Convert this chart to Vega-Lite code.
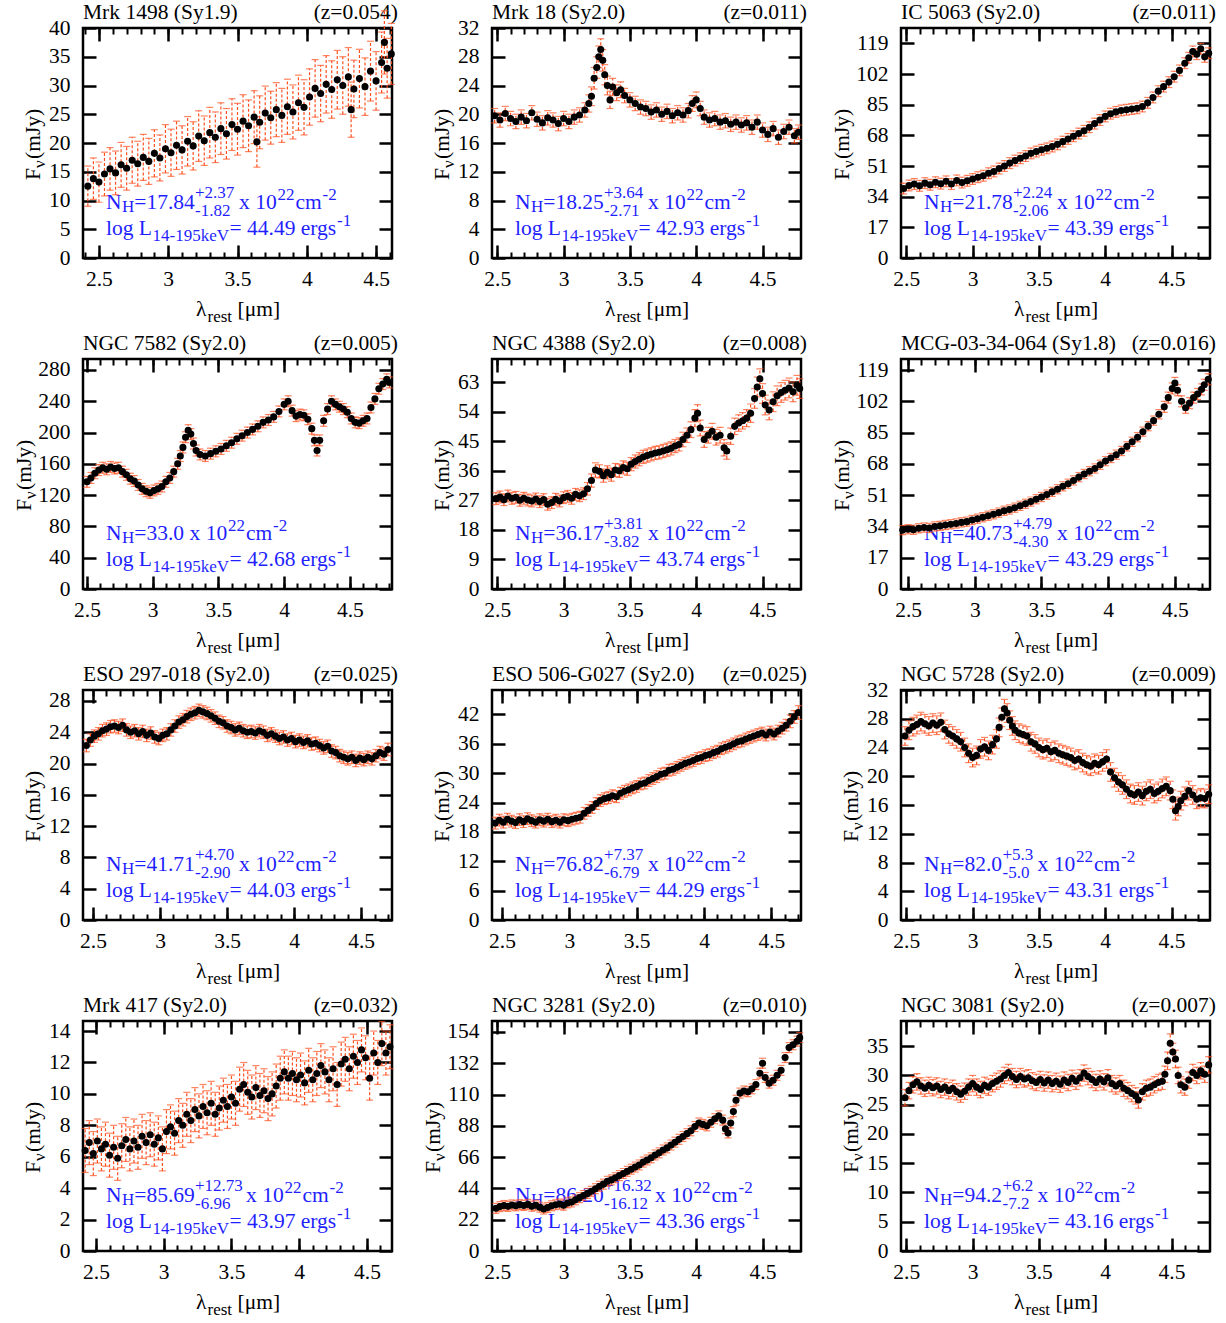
{
"$schema":"https://vega.github.io/schema/vega-lite/v6.json",
"background":"white",
"padding":{"left":12,"top":0,"right":5,"bottom":5},
"columns":3,
"spacing":{"row":101,"column":100},
"bounds":"flush",
"config":{
"view":{"stroke":"black","strokeWidth":2.5},
"axis":{"domain":false,"grid":false,"labelFont":"Liberation Serif","labelFontSize":21.5,"labelColor":"black","tickColor":"black","tickWidth":2.5,"labelFlush":false,"labelOverlap":false},
"text":{"font":"Liberation Serif","fontSize":21.5,"align":"left","baseline":"alphabetic","color":"black"},
"circle":{"size":50,"opacity":1},
"style":{"b":{"color":"#1f1fff"}}
},
"datasets":{
"o":[{"a":1}],
"d1":[{"x":2.42,"y":12.5,"e":3.5},{"x":2.46,"y":13.8,"e":3.6},{"x":2.5,"y":13.2,"e":3.5},{"x":2.54,"y":14.6,"e":3.8},{"x":2.58,"y":15.5,"e":3.7},{"x":2.62,"y":14.8,"e":3.8},{"x":2.66,"y":16.2,"e":3.9},{"x":2.7,"y":15.6,"e":3.8},{"x":2.74,"y":17,"e":4},{"x":2.78,"y":16.4,"e":3.9},{"x":2.82,"y":17.5,"e":4},{"x":2.86,"y":16.8,"e":4},{"x":2.9,"y":18.2,"e":4.1},{"x":2.94,"y":17.4,"e":4},{"x":2.98,"y":19,"e":4.2},{"x":3.02,"y":18.3,"e":4.1},{"x":3.06,"y":19.6,"e":4.2},{"x":3.1,"y":18.8,"e":4.2},{"x":3.14,"y":20.3,"e":4.3},{"x":3.18,"y":19.5,"e":4.2},{"x":3.22,"y":21.2,"e":4.4},{"x":3.26,"y":20.4,"e":4.3},{"x":3.3,"y":21.8,"e":4.4},{"x":3.34,"y":21,"e":4.4},{"x":3.38,"y":22.5,"e":4.5},{"x":3.42,"y":21.6,"e":4.4},{"x":3.46,"y":23.2,"e":4.5},{"x":3.5,"y":22.4,"e":4.5},{"x":3.54,"y":23.8,"e":4.6},{"x":3.58,"y":23,"e":4.5},{"x":3.62,"y":24.5,"e":4.6},{"x":3.64,"y":20.2,"e":4.4},{"x":3.66,"y":23.6,"e":4.6},{"x":3.7,"y":25.2,"e":4.7},{"x":3.74,"y":24.4,"e":4.6},{"x":3.78,"y":25.8,"e":4.7},{"x":3.82,"y":24.8,"e":4.7},{"x":3.86,"y":26.3,"e":4.8},{"x":3.9,"y":25.4,"e":4.7},{"x":3.94,"y":27,"e":4.8},{"x":3.98,"y":26.2,"e":4.8},{"x":4.02,"y":28,"e":4.9},{"x":4.06,"y":29.5,"e":5},{"x":4.1,"y":28.6,"e":4.9},{"x":4.14,"y":30.2,"e":5},{"x":4.18,"y":29.3,"e":5},{"x":4.22,"y":31,"e":5.1},{"x":4.26,"y":30,"e":5},{"x":4.3,"y":31.5,"e":5.1},{"x":4.32,"y":25.8,"e":4.8},{"x":4.34,"y":29.4,"e":5},{"x":4.38,"y":31.2,"e":5.1},{"x":4.42,"y":29.8,"e":5},{"x":4.46,"y":32.5,"e":5.2},{"x":4.5,"y":30.8,"e":5.1},{"x":4.54,"y":34,"e":5.3},{"x":4.56,"y":37.5,"e":5.5},{"x":4.58,"y":33,"e":5.2},{"x":4.61,"y":35.5,"e":5.3}],
"d2":[{"x":2.48,"y":19.8,"e":1},{"x":2.52,"y":19.2,"e":1},{"x":2.56,"y":20.1,"e":1},{"x":2.6,"y":19.4,"e":1},{"x":2.64,"y":19,"e":1},{"x":2.68,"y":19.6,"e":1},{"x":2.72,"y":19.1,"e":1},{"x":2.76,"y":20.2,"e":1},{"x":2.8,"y":19.3,"e":1},{"x":2.84,"y":18.8,"e":1},{"x":2.88,"y":19.5,"e":1},{"x":2.92,"y":19.2,"e":1},{"x":2.96,"y":18.7,"e":1},{"x":3,"y":19.4,"e":1},{"x":3.04,"y":19,"e":1},{"x":3.08,"y":19.6,"e":1},{"x":3.12,"y":19.9,"e":1},{"x":3.16,"y":20.6,"e":1},{"x":3.19,"y":21.5,"e":1.2},{"x":3.21,"y":22.5,"e":1.3},{"x":3.23,"y":25,"e":1.5},{"x":3.25,"y":26.5,"e":1.5},{"x":3.265,"y":28,"e":1.5},{"x":3.28,"y":29,"e":1.5},{"x":3.295,"y":27.5,"e":1.5},{"x":3.31,"y":25.5,"e":1.4},{"x":3.33,"y":24,"e":1.3},{"x":3.35,"y":22,"e":1.2},{"x":3.37,"y":23.8,"e":1.2},{"x":3.4,"y":23,"e":1.1},{"x":3.43,"y":23.4,"e":1.1},{"x":3.46,"y":22.6,"e":1},{"x":3.5,"y":22,"e":1},{"x":3.54,"y":21.5,"e":1},{"x":3.58,"y":21,"e":1},{"x":3.62,"y":20.8,"e":1},{"x":3.66,"y":20.3,"e":1},{"x":3.7,"y":20.6,"e":1},{"x":3.74,"y":20,"e":1},{"x":3.78,"y":20.4,"e":1},{"x":3.82,"y":19.8,"e":1},{"x":3.86,"y":20.2,"e":1},{"x":3.9,"y":19.9,"e":1},{"x":3.94,"y":20.5,"e":1},{"x":3.97,"y":21.5,"e":1.1},{"x":4,"y":22,"e":1.1},{"x":4.03,"y":20.8,"e":1},{"x":4.06,"y":19.6,"e":1},{"x":4.1,"y":19.2,"e":1},{"x":4.14,"y":19.4,"e":1},{"x":4.18,"y":18.9,"e":1},{"x":4.22,"y":19.1,"e":1},{"x":4.26,"y":18.6,"e":1},{"x":4.3,"y":18.9,"e":1},{"x":4.34,"y":18.5,"e":1},{"x":4.38,"y":18.8,"e":1},{"x":4.42,"y":18.2,"e":1},{"x":4.46,"y":18.9,"e":1},{"x":4.5,"y":17.8,"e":1},{"x":4.54,"y":17.2,"e":1},{"x":4.58,"y":18,"e":1},{"x":4.62,"y":16.8,"e":1},{"x":4.66,"y":17.6,"e":1},{"x":4.7,"y":18.2,"e":1},{"x":4.74,"y":17,"e":1},{"x":4.77,"y":17.5,"e":1}],
"d3":[{"x":2.48,"y":38.5,"e":3},{"x":2.52,"y":40.2,"e":3},{"x":2.56,"y":41,"e":3},{"x":2.6,"y":40,"e":3},{"x":2.64,"y":41.5,"e":3},{"x":2.68,"y":40.6,"e":3},{"x":2.72,"y":42,"e":3},{"x":2.76,"y":41.2,"e":3},{"x":2.8,"y":42.5,"e":3},{"x":2.84,"y":41,"e":3},{"x":2.88,"y":43,"e":3},{"x":2.92,"y":41.8,"e":3},{"x":2.96,"y":42.8,"e":3},{"x":3,"y":43.8,"e":3},{"x":3.04,"y":44.8,"e":3},{"x":3.08,"y":45.6,"e":3},{"x":3.12,"y":47,"e":3},{"x":3.16,"y":48,"e":3},{"x":3.2,"y":49.6,"e":3},{"x":3.24,"y":51,"e":3},{"x":3.28,"y":52.6,"e":3},{"x":3.32,"y":54,"e":3},{"x":3.36,"y":55.3,"e":3},{"x":3.4,"y":56.5,"e":3},{"x":3.44,"y":58,"e":3},{"x":3.48,"y":59,"e":3},{"x":3.52,"y":60,"e":3},{"x":3.56,"y":60.8,"e":3},{"x":3.6,"y":61.8,"e":3},{"x":3.64,"y":63,"e":3},{"x":3.68,"y":64.5,"e":3},{"x":3.72,"y":66,"e":3},{"x":3.76,"y":67.5,"e":3},{"x":3.8,"y":69,"e":3},{"x":3.84,"y":70.5,"e":3},{"x":3.88,"y":72.5,"e":3},{"x":3.92,"y":74.5,"e":3},{"x":3.96,"y":76.5,"e":3},{"x":4,"y":78.5,"e":3},{"x":4.04,"y":80,"e":3},{"x":4.08,"y":81,"e":3},{"x":4.12,"y":81.8,"e":3},{"x":4.16,"y":82.2,"e":3},{"x":4.2,"y":82.6,"e":3},{"x":4.24,"y":83,"e":3},{"x":4.28,"y":84,"e":3},{"x":4.32,"y":86,"e":3},{"x":4.36,"y":89,"e":3},{"x":4.4,"y":92.5,"e":3},{"x":4.44,"y":95,"e":3},{"x":4.48,"y":97.5,"e":3},{"x":4.52,"y":100.5,"e":3},{"x":4.56,"y":104,"e":3},{"x":4.6,"y":108,"e":3},{"x":4.63,"y":111,"e":3},{"x":4.66,"y":114.5,"e":3},{"x":4.69,"y":113,"e":3},{"x":4.72,"y":116,"e":3},{"x":4.75,"y":111.5,"e":3},{"x":4.78,"y":113.5,"e":3}],
"d4":[{"x":2.5,"y":137,"e":7},{"x":2.53,"y":142,"e":7},{"x":2.56,"y":148,"e":7},{"x":2.59,"y":152,"e":7},{"x":2.62,"y":155,"e":7},{"x":2.65,"y":153,"e":7},{"x":2.68,"y":156,"e":7},{"x":2.71,"y":154,"e":7},{"x":2.74,"y":155,"e":7},{"x":2.77,"y":150,"e":7},{"x":2.8,"y":146,"e":7},{"x":2.83,"y":141,"e":7},{"x":2.86,"y":138,"e":7},{"x":2.89,"y":133,"e":7},{"x":2.92,"y":128,"e":7},{"x":2.95,"y":125,"e":7},{"x":2.98,"y":123,"e":7},{"x":3.01,"y":126,"e":7},{"x":3.04,"y":128,"e":7},{"x":3.07,"y":131,"e":7},{"x":3.1,"y":137,"e":7},{"x":3.13,"y":142,"e":7},{"x":3.16,"y":150,"e":7},{"x":3.19,"y":160,"e":7},{"x":3.21,"y":170,"e":7},{"x":3.23,"y":181,"e":7},{"x":3.25,"y":194,"e":7},{"x":3.27,"y":203,"e":7},{"x":3.29,"y":198,"e":7},{"x":3.31,"y":186,"e":7},{"x":3.33,"y":177,"e":7},{"x":3.36,"y":172,"e":7},{"x":3.4,"y":170,"e":7},{"x":3.44,"y":173,"e":7},{"x":3.48,"y":176,"e":7},{"x":3.52,"y":179,"e":7},{"x":3.56,"y":183,"e":7},{"x":3.6,"y":187,"e":7},{"x":3.64,"y":192,"e":7},{"x":3.68,"y":196,"e":7},{"x":3.72,"y":200,"e":7},{"x":3.76,"y":204,"e":7},{"x":3.8,"y":208,"e":7},{"x":3.84,"y":213,"e":7},{"x":3.88,"y":216,"e":7},{"x":3.92,"y":220,"e":7},{"x":3.96,"y":227,"e":7},{"x":4,"y":236,"e":7},{"x":4.03,"y":240,"e":7},{"x":4.06,"y":228,"e":7},{"x":4.09,"y":221,"e":7},{"x":4.12,"y":223,"e":7},{"x":4.15,"y":222,"e":7},{"x":4.18,"y":217,"e":7},{"x":4.21,"y":205,"e":7},{"x":4.23,"y":190,"e":7},{"x":4.25,"y":177,"e":7},{"x":4.27,"y":190,"e":7},{"x":4.3,"y":215,"e":7},{"x":4.33,"y":230,"e":7},{"x":4.36,"y":240,"e":7},{"x":4.39,"y":236,"e":7},{"x":4.42,"y":233,"e":7},{"x":4.45,"y":230,"e":7},{"x":4.48,"y":226,"e":7},{"x":4.51,"y":218,"e":7},{"x":4.54,"y":213,"e":7},{"x":4.57,"y":212,"e":7},{"x":4.6,"y":215,"e":7},{"x":4.63,"y":218,"e":7},{"x":4.66,"y":232,"e":7},{"x":4.69,"y":243,"e":7},{"x":4.72,"y":256,"e":7},{"x":4.75,"y":262,"e":7},{"x":4.78,"y":268,"e":7},{"x":4.8,"y":264,"e":7}],
"d5":[{"x":2.49,"y":27.5,"e":1.8},{"x":2.52,"y":28,"e":1.8},{"x":2.55,"y":27.2,"e":1.8},{"x":2.58,"y":28.3,"e":1.8},{"x":2.61,"y":27.6,"e":1.8},{"x":2.64,"y":27.9,"e":1.8},{"x":2.67,"y":27,"e":1.8},{"x":2.7,"y":27.6,"e":1.8},{"x":2.73,"y":27.1,"e":1.8},{"x":2.76,"y":26.8,"e":1.8},{"x":2.79,"y":27.4,"e":1.8},{"x":2.82,"y":26.6,"e":1.8},{"x":2.85,"y":27.2,"e":1.8},{"x":2.88,"y":25.8,"e":1.8},{"x":2.91,"y":26.3,"e":1.8},{"x":2.94,"y":27.3,"e":1.8},{"x":2.97,"y":26.8,"e":1.8},{"x":3,"y":27.8,"e":1.8},{"x":3.03,"y":28.2,"e":1.8},{"x":3.06,"y":27.6,"e":1.8},{"x":3.09,"y":28.8,"e":1.8},{"x":3.12,"y":28.4,"e":1.8},{"x":3.15,"y":29,"e":1.8},{"x":3.18,"y":30.5,"e":1.9},{"x":3.21,"y":33,"e":2},{"x":3.24,"y":36.2,"e":2.2},{"x":3.27,"y":35.8,"e":2},{"x":3.3,"y":34.5,"e":2},{"x":3.33,"y":35.5,"e":2},{"x":3.36,"y":34.8,"e":2},{"x":3.39,"y":36.2,"e":2},{"x":3.42,"y":36,"e":2},{"x":3.45,"y":37,"e":2},{"x":3.48,"y":36.6,"e":2},{"x":3.51,"y":38,"e":2},{"x":3.54,"y":38.8,"e":2},{"x":3.57,"y":39.5,"e":2},{"x":3.6,"y":40.2,"e":2},{"x":3.63,"y":40.6,"e":2},{"x":3.66,"y":41,"e":2},{"x":3.69,"y":41.4,"e":2},{"x":3.72,"y":41.6,"e":2},{"x":3.75,"y":42,"e":2},{"x":3.78,"y":42.4,"e":2},{"x":3.81,"y":42.8,"e":2},{"x":3.84,"y":43.5,"e":2},{"x":3.87,"y":44,"e":2},{"x":3.9,"y":45.5,"e":2.2},{"x":3.93,"y":46.8,"e":2.2},{"x":3.96,"y":48.5,"e":2.4},{"x":3.99,"y":52,"e":2.6},{"x":4.01,"y":53.5,"e":2.6},{"x":4.03,"y":49,"e":2.4},{"x":4.06,"y":45.5,"e":2.4},{"x":4.09,"y":46.8,"e":2.4},{"x":4.12,"y":48,"e":2.4},{"x":4.15,"y":46.2,"e":2.4},{"x":4.18,"y":46.8,"e":2.4},{"x":4.21,"y":43,"e":2.5},{"x":4.23,"y":42,"e":2.5},{"x":4.26,"y":46.5,"e":2.5},{"x":4.29,"y":49.5,"e":2.5},{"x":4.32,"y":50.5,"e":2.5},{"x":4.35,"y":51.2,"e":2.5},{"x":4.38,"y":52,"e":2.6},{"x":4.41,"y":53.5,"e":2.8},{"x":4.44,"y":58,"e":3},{"x":4.46,"y":61.5,"e":3},{"x":4.48,"y":64,"e":3},{"x":4.5,"y":59.5,"e":3},{"x":4.52,"y":56,"e":3},{"x":4.55,"y":54.5,"e":3},{"x":4.58,"y":57,"e":3},{"x":4.61,"y":58.8,"e":3},{"x":4.64,"y":59.8,"e":3},{"x":4.67,"y":60.5,"e":3},{"x":4.7,"y":61.2,"e":3},{"x":4.73,"y":60,"e":3},{"x":4.76,"y":62,"e":3},{"x":4.78,"y":61,"e":3}],
"d6":[{"x":2.46,"y":32,"e":2.5},{"x":2.5,"y":32.5,"e":2.5},{"x":2.54,"y":32.2,"e":2.5},{"x":2.58,"y":33,"e":2.5},{"x":2.62,"y":33.4,"e":2.5},{"x":2.66,"y":33.2,"e":2.5},{"x":2.7,"y":34,"e":2.5},{"x":2.74,"y":34.3,"e":2.5},{"x":2.78,"y":34.8,"e":2.5},{"x":2.82,"y":35.2,"e":2.5},{"x":2.86,"y":35.6,"e":2.5},{"x":2.9,"y":36.2,"e":2.5},{"x":2.94,"y":36.6,"e":2.5},{"x":2.98,"y":37.5,"e":2.5},{"x":3.02,"y":38.2,"e":2.5},{"x":3.06,"y":39,"e":2.5},{"x":3.1,"y":39.8,"e":2.5},{"x":3.14,"y":40.6,"e":2.5},{"x":3.18,"y":41.5,"e":2.5},{"x":3.22,"y":42.5,"e":2.5},{"x":3.26,"y":43.2,"e":2.5},{"x":3.3,"y":44.2,"e":2.5},{"x":3.34,"y":45.2,"e":2.5},{"x":3.38,"y":46.3,"e":2.5},{"x":3.42,"y":47.5,"e":2.5},{"x":3.46,"y":48.8,"e":2.5},{"x":3.5,"y":50,"e":2.5},{"x":3.54,"y":51.3,"e":2.5},{"x":3.58,"y":52.8,"e":2.5},{"x":3.62,"y":54.2,"e":2.5},{"x":3.66,"y":55.8,"e":2.5},{"x":3.7,"y":57.2,"e":2.5},{"x":3.74,"y":59,"e":2.5},{"x":3.78,"y":60.8,"e":2.5},{"x":3.82,"y":62.5,"e":2.5},{"x":3.86,"y":64,"e":2.5},{"x":3.9,"y":65.5,"e":2.5},{"x":3.94,"y":67.5,"e":2.5},{"x":3.98,"y":69.5,"e":2.5},{"x":4.02,"y":71.2,"e":2.5},{"x":4.06,"y":73,"e":2.5},{"x":4.1,"y":75,"e":2.5},{"x":4.14,"y":77.5,"e":2.5},{"x":4.18,"y":80,"e":2.5},{"x":4.22,"y":82.5,"e":2.5},{"x":4.26,"y":85.5,"e":2.5},{"x":4.3,"y":88.5,"e":2.5},{"x":4.34,"y":91.5,"e":2.5},{"x":4.38,"y":95,"e":2.5},{"x":4.42,"y":99,"e":3},{"x":4.45,"y":104,"e":3},{"x":4.48,"y":109,"e":3},{"x":4.5,"y":112,"e":3},{"x":4.52,"y":108,"e":3},{"x":4.55,"y":102,"e":3},{"x":4.58,"y":98.5,"e":3},{"x":4.61,"y":101,"e":3},{"x":4.64,"y":104,"e":3},{"x":4.67,"y":106,"e":3},{"x":4.7,"y":108.5,"e":3},{"x":4.72,"y":111,"e":3},{"x":4.75,"y":114,"e":3}],
"d7":[{"x":2.45,"y":22.3,"e":0.8},{"x":2.48,"y":23,"e":0.8},{"x":2.51,"y":23.5,"e":0.8},{"x":2.54,"y":23.8,"e":0.8},{"x":2.57,"y":24.2,"e":0.8},{"x":2.6,"y":24.4,"e":0.8},{"x":2.63,"y":24.7,"e":0.8},{"x":2.66,"y":24.8,"e":0.8},{"x":2.69,"y":24.6,"e":0.8},{"x":2.72,"y":24.9,"e":0.8},{"x":2.75,"y":24.3,"e":0.8},{"x":2.78,"y":24,"e":0.8},{"x":2.81,"y":24.2,"e":0.8},{"x":2.84,"y":23.8,"e":0.8},{"x":2.87,"y":24.1,"e":0.8},{"x":2.9,"y":23.6,"e":0.8},{"x":2.93,"y":23.9,"e":0.8},{"x":2.96,"y":23.4,"e":0.8},{"x":2.99,"y":23.2,"e":0.8},{"x":3.02,"y":23.6,"e":0.8},{"x":3.05,"y":23.8,"e":0.8},{"x":3.08,"y":24.3,"e":0.8},{"x":3.11,"y":24.8,"e":0.8},{"x":3.14,"y":25.3,"e":0.8},{"x":3.17,"y":25.6,"e":0.8},{"x":3.2,"y":26,"e":0.8},{"x":3.23,"y":26.3,"e":0.8},{"x":3.26,"y":26.5,"e":0.8},{"x":3.29,"y":26.8,"e":0.8},{"x":3.32,"y":26.6,"e":0.8},{"x":3.35,"y":26.4,"e":0.8},{"x":3.38,"y":26.1,"e":0.8},{"x":3.41,"y":25.8,"e":0.8},{"x":3.44,"y":25.4,"e":0.8},{"x":3.47,"y":25.2,"e":0.8},{"x":3.5,"y":24.8,"e":0.8},{"x":3.53,"y":24.6,"e":0.8},{"x":3.56,"y":24.3,"e":0.8},{"x":3.59,"y":24.5,"e":0.8},{"x":3.62,"y":24.2,"e":0.8},{"x":3.65,"y":24,"e":0.8},{"x":3.68,"y":24.1,"e":0.8},{"x":3.71,"y":23.9,"e":0.8},{"x":3.74,"y":24.2,"e":0.8},{"x":3.77,"y":24,"e":0.8},{"x":3.8,"y":23.6,"e":0.8},{"x":3.83,"y":23.8,"e":0.8},{"x":3.86,"y":23.5,"e":0.8},{"x":3.89,"y":23.2,"e":0.8},{"x":3.92,"y":23.4,"e":0.8},{"x":3.95,"y":23,"e":0.8},{"x":3.98,"y":23.2,"e":0.8},{"x":4.01,"y":22.8,"e":0.8},{"x":4.04,"y":23,"e":0.8},{"x":4.07,"y":22.7,"e":0.8},{"x":4.1,"y":22.9,"e":0.8},{"x":4.13,"y":22.5,"e":0.8},{"x":4.16,"y":22.6,"e":0.8},{"x":4.19,"y":22.3,"e":0.8},{"x":4.22,"y":22,"e":0.8},{"x":4.25,"y":22.2,"e":0.8},{"x":4.28,"y":21.6,"e":0.8},{"x":4.31,"y":21.4,"e":0.8},{"x":4.34,"y":21,"e":0.8},{"x":4.37,"y":20.8,"e":0.8},{"x":4.4,"y":20.6,"e":0.8},{"x":4.43,"y":20.8,"e":0.8},{"x":4.46,"y":20.4,"e":0.8},{"x":4.49,"y":20.7,"e":0.8},{"x":4.52,"y":20.5,"e":0.8},{"x":4.55,"y":20.8,"e":0.8},{"x":4.58,"y":20.6,"e":0.8},{"x":4.61,"y":21,"e":0.8},{"x":4.64,"y":21.4,"e":0.8},{"x":4.67,"y":21.2,"e":0.8},{"x":4.7,"y":21.8,"e":0.8}],
"d8":[{"x":2.45,"y":19.8,"e":1.2},{"x":2.48,"y":20.4,"e":1.2},{"x":2.51,"y":20,"e":1.2},{"x":2.54,"y":20.6,"e":1.2},{"x":2.57,"y":20.2,"e":1.2},{"x":2.6,"y":19.9,"e":1.2},{"x":2.63,"y":20.5,"e":1.2},{"x":2.66,"y":20.1,"e":1.2},{"x":2.69,"y":20.7,"e":1.2},{"x":2.72,"y":20.3,"e":1.2},{"x":2.75,"y":20,"e":1.2},{"x":2.78,"y":20.5,"e":1.2},{"x":2.81,"y":20.2,"e":1.2},{"x":2.84,"y":20.6,"e":1.2},{"x":2.87,"y":20.1,"e":1.2},{"x":2.9,"y":20.4,"e":1.2},{"x":2.93,"y":20,"e":1.2},{"x":2.96,"y":20.5,"e":1.2},{"x":2.99,"y":20.3,"e":1.2},{"x":3.02,"y":20.6,"e":1.2},{"x":3.05,"y":20.8,"e":1.2},{"x":3.08,"y":21,"e":1.2},{"x":3.11,"y":21.8,"e":1.2},{"x":3.14,"y":22.4,"e":1.2},{"x":3.17,"y":23,"e":1.2},{"x":3.2,"y":23.8,"e":1.2},{"x":3.23,"y":24.4,"e":1.2},{"x":3.26,"y":24.8,"e":1.2},{"x":3.29,"y":25,"e":1.2},{"x":3.32,"y":25.4,"e":1.2},{"x":3.35,"y":25.2,"e":1.2},{"x":3.38,"y":25.9,"e":1.2},{"x":3.41,"y":26.3,"e":1.2},{"x":3.44,"y":26.6,"e":1.2},{"x":3.47,"y":27,"e":1.2},{"x":3.5,"y":27.3,"e":1.2},{"x":3.53,"y":27.8,"e":1.2},{"x":3.56,"y":28,"e":1.2},{"x":3.59,"y":28.5,"e":1.2},{"x":3.62,"y":28.9,"e":1.2},{"x":3.65,"y":29.3,"e":1.2},{"x":3.68,"y":29.8,"e":1.2},{"x":3.71,"y":30,"e":1.2},{"x":3.74,"y":30.6,"e":1.2},{"x":3.77,"y":30.8,"e":1.2},{"x":3.8,"y":31.2,"e":1.2},{"x":3.83,"y":31.6,"e":1.2},{"x":3.86,"y":32,"e":1.2},{"x":3.89,"y":32.3,"e":1.2},{"x":3.92,"y":32.6,"e":1.2},{"x":3.95,"y":33,"e":1.2},{"x":3.98,"y":33.2,"e":1.2},{"x":4.01,"y":33.6,"e":1.2},{"x":4.04,"y":33.8,"e":1.2},{"x":4.07,"y":34.2,"e":1.2},{"x":4.1,"y":34.5,"e":1.2},{"x":4.13,"y":35,"e":1.2},{"x":4.16,"y":35.3,"e":1.2},{"x":4.19,"y":35.6,"e":1.2},{"x":4.22,"y":36,"e":1.2},{"x":4.25,"y":36.4,"e":1.2},{"x":4.28,"y":36.6,"e":1.2},{"x":4.31,"y":37,"e":1.2},{"x":4.34,"y":37.3,"e":1.2},{"x":4.37,"y":37.6,"e":1.2},{"x":4.4,"y":37.9,"e":1.2},{"x":4.43,"y":38.2,"e":1.2},{"x":4.46,"y":37.8,"e":1.2},{"x":4.49,"y":38.4,"e":1.2},{"x":4.52,"y":38,"e":1.2},{"x":4.55,"y":38.6,"e":1.2},{"x":4.58,"y":39.2,"e":1.2},{"x":4.61,"y":39.8,"e":1.2},{"x":4.64,"y":40.6,"e":1.3},{"x":4.67,"y":41.5,"e":1.3},{"x":4.7,"y":42.4,"e":1.4}],
"d9":[{"x":2.49,"y":25.6,"e":1.3},{"x":2.52,"y":26.4,"e":1.3},{"x":2.55,"y":26.9,"e":1.3},{"x":2.58,"y":27.2,"e":1.3},{"x":2.61,"y":27.6,"e":1.3},{"x":2.64,"y":27.3,"e":1.3},{"x":2.67,"y":27,"e":1.3},{"x":2.7,"y":27.4,"e":1.3},{"x":2.73,"y":27.1,"e":1.3},{"x":2.76,"y":27.5,"e":1.3},{"x":2.79,"y":26.5,"e":1.3},{"x":2.82,"y":25.9,"e":1.3},{"x":2.85,"y":25.6,"e":1.3},{"x":2.88,"y":25.2,"e":1.3},{"x":2.91,"y":24.8,"e":1.3},{"x":2.94,"y":24,"e":1.3},{"x":2.97,"y":23.2,"e":1.3},{"x":3,"y":22.6,"e":1.3},{"x":3.03,"y":22.9,"e":1.3},{"x":3.06,"y":23.8,"e":1.3},{"x":3.09,"y":24.1,"e":1.3},{"x":3.12,"y":23.6,"e":1.3},{"x":3.15,"y":24.4,"e":1.3},{"x":3.18,"y":25.2,"e":1.3},{"x":3.2,"y":26.8,"e":1.3},{"x":3.22,"y":28.2,"e":1.3},{"x":3.24,"y":29.4,"e":1.3},{"x":3.26,"y":28.8,"e":1.3},{"x":3.28,"y":27.8,"e":1.3},{"x":3.3,"y":27,"e":1.3},{"x":3.32,"y":26.4,"e":1.3},{"x":3.35,"y":26,"e":1.3},{"x":3.38,"y":25.8,"e":1.3},{"x":3.41,"y":25.6,"e":1.3},{"x":3.44,"y":24.8,"e":1.3},{"x":3.47,"y":24.5,"e":1.3},{"x":3.5,"y":24,"e":1.3},{"x":3.53,"y":23.7,"e":1.3},{"x":3.56,"y":23.9,"e":1.3},{"x":3.59,"y":23.4,"e":1.3},{"x":3.62,"y":23.6,"e":1.3},{"x":3.65,"y":23.2,"e":1.3},{"x":3.68,"y":23,"e":1.3},{"x":3.71,"y":22.8,"e":1.3},{"x":3.74,"y":22.6,"e":1.3},{"x":3.77,"y":22.2,"e":1.3},{"x":3.8,"y":22.4,"e":1.3},{"x":3.83,"y":21.9,"e":1.3},{"x":3.86,"y":21.6,"e":1.3},{"x":3.89,"y":21.4,"e":1.3},{"x":3.92,"y":21.8,"e":1.3},{"x":3.95,"y":21.6,"e":1.3},{"x":3.98,"y":22,"e":1.3},{"x":4.01,"y":22.4,"e":1.3},{"x":4.04,"y":20.6,"e":1.3},{"x":4.07,"y":19.8,"e":1.3},{"x":4.1,"y":19.2,"e":1.3},{"x":4.13,"y":18.8,"e":1.3},{"x":4.16,"y":18.2,"e":1.3},{"x":4.19,"y":17.6,"e":1.3},{"x":4.22,"y":17.4,"e":1.3},{"x":4.25,"y":17.8,"e":1.3},{"x":4.28,"y":17.3,"e":1.3},{"x":4.31,"y":17.9,"e":1.3},{"x":4.34,"y":18.2,"e":1.3},{"x":4.37,"y":17.6,"e":1.3},{"x":4.4,"y":17.9,"e":1.3},{"x":4.43,"y":18.3,"e":1.3},{"x":4.46,"y":18.6,"e":1.3},{"x":4.49,"y":18,"e":1.3},{"x":4.51,"y":16.8,"e":1.3},{"x":4.53,"y":15.2,"e":1.3},{"x":4.55,"y":15.8,"e":1.3},{"x":4.57,"y":16.6,"e":1.3},{"x":4.6,"y":17.2,"e":1.3},{"x":4.63,"y":18,"e":1.3},{"x":4.66,"y":17.4,"e":1.3},{"x":4.69,"y":16.8,"e":1.3},{"x":4.72,"y":17,"e":1.3},{"x":4.75,"y":16.9,"e":1.3},{"x":4.78,"y":17.5,"e":1.3}],
"d10":[{"x":2.42,"y":6.4,"e":1.4},{"x":2.45,"y":6.9,"e":1.4},{"x":2.48,"y":6.2,"e":1.4},{"x":2.51,"y":7,"e":1.4},{"x":2.54,"y":6.5,"e":1.4},{"x":2.57,"y":6.8,"e":1.4},{"x":2.6,"y":6.1,"e":1.4},{"x":2.63,"y":6.6,"e":1.4},{"x":2.66,"y":5.9,"e":1.4},{"x":2.69,"y":6.7,"e":1.4},{"x":2.72,"y":7.1,"e":1.4},{"x":2.75,"y":6.5,"e":1.4},{"x":2.78,"y":7,"e":1.4},{"x":2.81,"y":6.6,"e":1.4},{"x":2.84,"y":7.3,"e":1.4},{"x":2.87,"y":6.9,"e":1.4},{"x":2.9,"y":7.4,"e":1.4},{"x":2.93,"y":6.8,"e":1.4},{"x":2.96,"y":7.2,"e":1.4},{"x":2.99,"y":6.5,"e":1.4},{"x":3.02,"y":7.6,"e":1.4},{"x":3.05,"y":7.9,"e":1.4},{"x":3.08,"y":7.5,"e":1.4},{"x":3.11,"y":8.3,"e":1.4},{"x":3.14,"y":8,"e":1.4},{"x":3.17,"y":8.7,"e":1.4},{"x":3.2,"y":8.3,"e":1.4},{"x":3.23,"y":9,"e":1.4},{"x":3.26,"y":8.6,"e":1.4},{"x":3.29,"y":9.2,"e":1.4},{"x":3.32,"y":8.8,"e":1.4},{"x":3.35,"y":9.4,"e":1.4},{"x":3.38,"y":8.7,"e":1.4},{"x":3.41,"y":9.1,"e":1.4},{"x":3.44,"y":9.6,"e":1.4},{"x":3.47,"y":9.2,"e":1.4},{"x":3.5,"y":9.8,"e":1.4},{"x":3.53,"y":9.4,"e":1.4},{"x":3.56,"y":10.3,"e":1.4},{"x":3.59,"y":10.6,"e":1.4},{"x":3.62,"y":10.1,"e":1.4},{"x":3.65,"y":9.8,"e":1.4},{"x":3.68,"y":10.4,"e":1.4},{"x":3.71,"y":9.9,"e":1.4},{"x":3.74,"y":10.2,"e":1.4},{"x":3.77,"y":9.7,"e":1.4},{"x":3.8,"y":10,"e":1.4},{"x":3.83,"y":10.5,"e":1.4},{"x":3.86,"y":11,"e":1.4},{"x":3.89,"y":11.4,"e":1.4},{"x":3.92,"y":11,"e":1.4},{"x":3.95,"y":11.3,"e":1.4},{"x":3.98,"y":10.9,"e":1.4},{"x":4.01,"y":11.2,"e":1.4},{"x":4.04,"y":10.7,"e":1.4},{"x":4.07,"y":11.5,"e":1.4},{"x":4.1,"y":10.9,"e":1.4},{"x":4.13,"y":11.3,"e":1.4},{"x":4.16,"y":11.8,"e":1.4},{"x":4.19,"y":11.4,"e":1.4},{"x":4.22,"y":10.9,"e":1.4},{"x":4.25,"y":11.6,"e":1.4},{"x":4.28,"y":10.6,"e":1.4},{"x":4.31,"y":11.9,"e":1.4},{"x":4.34,"y":12.2,"e":1.4},{"x":4.37,"y":11.6,"e":1.4},{"x":4.4,"y":12.4,"e":1.4},{"x":4.43,"y":12,"e":1.4},{"x":4.46,"y":12.8,"e":1.4},{"x":4.49,"y":12.3,"e":1.4},{"x":4.52,"y":11,"e":1.4},{"x":4.55,"y":12.6,"e":1.4},{"x":4.58,"y":12,"e":1.4},{"x":4.61,"y":13.2,"e":1.4},{"x":4.64,"y":12.6,"e":1.4},{"x":4.67,"y":13,"e":1.4}],
"d11":[{"x":2.49,"y":30,"e":3.5},{"x":2.52,"y":31.2,"e":3.5},{"x":2.55,"y":32,"e":3.5},{"x":2.58,"y":31.4,"e":3.5},{"x":2.61,"y":32.4,"e":3.5},{"x":2.64,"y":31.8,"e":3.5},{"x":2.67,"y":32.6,"e":3.5},{"x":2.7,"y":32,"e":3.5},{"x":2.73,"y":32.8,"e":3.5},{"x":2.76,"y":31.5,"e":3.5},{"x":2.79,"y":32.2,"e":3.5},{"x":2.82,"y":30.8,"e":3.5},{"x":2.85,"y":29.5,"e":3.5},{"x":2.88,"y":30.6,"e":3.5},{"x":2.91,"y":31.8,"e":3.5},{"x":2.94,"y":32.5,"e":3.5},{"x":2.97,"y":33,"e":3.5},{"x":3,"y":32.2,"e":3.5},{"x":3.03,"y":33.8,"e":3.5},{"x":3.06,"y":34.5,"e":3.5},{"x":3.09,"y":36,"e":3.5},{"x":3.12,"y":37.5,"e":3.5},{"x":3.15,"y":39,"e":3.5},{"x":3.18,"y":40.5,"e":3.5},{"x":3.21,"y":42,"e":3.5},{"x":3.24,"y":43.8,"e":3.5},{"x":3.27,"y":45.5,"e":3.5},{"x":3.3,"y":47,"e":3.5},{"x":3.33,"y":49,"e":3.5},{"x":3.36,"y":50,"e":3.5},{"x":3.39,"y":51.5,"e":3.5},{"x":3.42,"y":53,"e":3.5},{"x":3.45,"y":54.5,"e":3.5},{"x":3.48,"y":56,"e":3.5},{"x":3.51,"y":57.5,"e":3.5},{"x":3.54,"y":59,"e":3.5},{"x":3.57,"y":60.5,"e":3.5},{"x":3.6,"y":62.5,"e":3.5},{"x":3.63,"y":64,"e":3.5},{"x":3.66,"y":65.5,"e":3.5},{"x":3.69,"y":67.5,"e":3.5},{"x":3.72,"y":69,"e":3.5},{"x":3.75,"y":71,"e":3.5},{"x":3.78,"y":72.5,"e":3.5},{"x":3.81,"y":74.5,"e":3.5},{"x":3.84,"y":76.5,"e":3.5},{"x":3.87,"y":78.5,"e":3.5},{"x":3.9,"y":80.5,"e":3.5},{"x":3.93,"y":82.5,"e":3.5},{"x":3.96,"y":84.5,"e":3.5},{"x":3.99,"y":87.5,"e":3.5},{"x":4.02,"y":90,"e":3.5},{"x":4.05,"y":89,"e":3.5},{"x":4.08,"y":88,"e":3.5},{"x":4.11,"y":90.5,"e":3.5},{"x":4.14,"y":93,"e":3.5},{"x":4.17,"y":95,"e":3.5},{"x":4.2,"y":92,"e":3.5},{"x":4.22,"y":86,"e":3.5},{"x":4.24,"y":83,"e":3.5},{"x":4.26,"y":90,"e":3.5},{"x":4.28,"y":98,"e":3.5},{"x":4.3,"y":106,"e":3.5},{"x":4.33,"y":111,"e":3.5},{"x":4.36,"y":112.5,"e":3.5},{"x":4.39,"y":112,"e":3.5},{"x":4.42,"y":114,"e":3.5},{"x":4.45,"y":117,"e":3.5},{"x":4.48,"y":125,"e":3.5},{"x":4.5,"y":132,"e":3.5},{"x":4.52,"y":122,"e":3.5},{"x":4.55,"y":118,"e":3.5},{"x":4.58,"y":120,"e":3.5},{"x":4.61,"y":123.5,"e":3.5},{"x":4.64,"y":127,"e":3.5},{"x":4.67,"y":136,"e":3.5},{"x":4.7,"y":143,"e":3.5},{"x":4.73,"y":145,"e":3.5},{"x":4.76,"y":147.5,"e":3.5},{"x":4.78,"y":150,"e":3.5}],
"d12":[{"x":2.49,"y":26.2,"e":1.4},{"x":2.52,"y":27.4,"e":1.4},{"x":2.55,"y":28.4,"e":1.4},{"x":2.58,"y":28.9,"e":1.4},{"x":2.61,"y":28.2,"e":1.4},{"x":2.64,"y":27.8,"e":1.4},{"x":2.67,"y":28.3,"e":1.4},{"x":2.7,"y":27.9,"e":1.4},{"x":2.73,"y":28.2,"e":1.4},{"x":2.76,"y":27.6,"e":1.4},{"x":2.79,"y":28,"e":1.4},{"x":2.82,"y":27.4,"e":1.4},{"x":2.85,"y":27.8,"e":1.4},{"x":2.88,"y":27.2,"e":1.4},{"x":2.91,"y":26.8,"e":1.4},{"x":2.94,"y":27.3,"e":1.4},{"x":2.97,"y":28,"e":1.4},{"x":3,"y":28.6,"e":1.4},{"x":3.03,"y":28,"e":1.4},{"x":3.06,"y":27.6,"e":1.4},{"x":3.09,"y":28.3,"e":1.4},{"x":3.12,"y":28,"e":1.4},{"x":3.15,"y":28.6,"e":1.4},{"x":3.18,"y":29,"e":1.4},{"x":3.21,"y":29.4,"e":1.4},{"x":3.24,"y":30,"e":1.4},{"x":3.27,"y":30.5,"e":1.4},{"x":3.3,"y":29.8,"e":1.4},{"x":3.33,"y":29.3,"e":1.4},{"x":3.36,"y":29.8,"e":1.4},{"x":3.39,"y":29.4,"e":1.4},{"x":3.42,"y":29.6,"e":1.4},{"x":3.45,"y":29.1,"e":1.4},{"x":3.48,"y":28.8,"e":1.4},{"x":3.51,"y":29.3,"e":1.4},{"x":3.54,"y":28.7,"e":1.4},{"x":3.57,"y":29.2,"e":1.4},{"x":3.6,"y":28.6,"e":1.4},{"x":3.63,"y":29,"e":1.4},{"x":3.66,"y":28.5,"e":1.4},{"x":3.69,"y":29.2,"e":1.4},{"x":3.72,"y":28.8,"e":1.4},{"x":3.75,"y":29.5,"e":1.4},{"x":3.78,"y":29,"e":1.4},{"x":3.81,"y":29.6,"e":1.4},{"x":3.84,"y":30.4,"e":1.4},{"x":3.87,"y":29.8,"e":1.4},{"x":3.9,"y":29.3,"e":1.4},{"x":3.93,"y":28.8,"e":1.4},{"x":3.96,"y":29.4,"e":1.4},{"x":3.99,"y":28.9,"e":1.4},{"x":4.02,"y":29.6,"e":1.4},{"x":4.05,"y":28.6,"e":1.4},{"x":4.08,"y":28.2,"e":1.4},{"x":4.11,"y":28.6,"e":1.4},{"x":4.14,"y":27.8,"e":1.4},{"x":4.17,"y":27.4,"e":1.4},{"x":4.2,"y":26.9,"e":1.4},{"x":4.23,"y":26.5,"e":1.4},{"x":4.25,"y":25.8,"e":1.4},{"x":4.28,"y":27.2,"e":1.4},{"x":4.31,"y":27.8,"e":1.4},{"x":4.34,"y":28,"e":1.4},{"x":4.37,"y":28.4,"e":1.4},{"x":4.4,"y":28.8,"e":1.4},{"x":4.43,"y":29,"e":1.4},{"x":4.45,"y":30.2,"e":1.4},{"x":4.47,"y":32.5,"e":1.5},{"x":4.49,"y":35.5,"e":1.6},{"x":4.51,"y":34,"e":1.5},{"x":4.53,"y":32.8,"e":1.5},{"x":4.55,"y":30,"e":1.4},{"x":4.57,"y":28.4,"e":1.4},{"x":4.6,"y":28,"e":1.4},{"x":4.63,"y":29.2,"e":1.4},{"x":4.66,"y":30.5,"e":1.4},{"x":4.69,"y":30,"e":1.4},{"x":4.72,"y":30.8,"e":1.4},{"x":4.75,"y":30.2,"e":1.4},{"x":4.78,"y":31.8,"e":1.4}]
},
"concat":[
{"width":309,"height":230,"resolve":{"axis":{"x":"independent","y":"independent"}},"layer":[
{"data":{"name":"o"},"encoding":{"x":{"datum":2.385,"type":"quantitative","axis":null},"y":{"datum":0,"type":"quantitative","axis":null}},"layer":[
{"mark":{"type":"text","dy":-239,"text":"Mrk 1498 (Sy1.9)"}},
{"mark":{"type":"text","align":"right","dx":315,"dy":-239,"text":"(z=0.054)"}},
{"mark":{"type":"text","angle":270,"dx":78,"dy":-43,"text":"F"}},
{"mark":{"type":"text","fontSize":17,"angle":270,"dx":90,"dy":-38,"text":"ν"}},
{"mark":{"type":"text","angle":270,"dx":99,"dy":-43,"text":"(mJy)"}},
{"mark":{"type":"text","dx":113,"dy":58,"text":"λ"}},
{"mark":{"type":"text","fontSize":17,"dx":124.5,"dy":64,"text":"rest"}},
{"mark":{"type":"text","dx":154.5,"dy":58,"text":"[μm]"}},
{"mark":{"type":"text","style":"b","dx":23,"dy":-49,"text":"N"}},
{"mark":{"type":"text","style":"b","fontSize":17,"dx":39,"dy":-46,"text":"H"}},
{"mark":{"type":"text","style":"b","dx":51.3,"dy":-49,"text":"=17.84"}},
{"mark":{"type":"text","style":"b","fontSize":17,"dx":112,"dy":-60,"text":"+2.37"}},
{"mark":{"type":"text","style":"b","fontSize":17,"dx":112,"dy":-42,"text":"-1.82"}},
{"mark":{"type":"text","style":"b","dx":156,"dy":-49,"text":"x 10"}},
{"mark":{"type":"text","style":"b","fontSize":17,"dx":194.5,"dy":-58,"text":"22"}},
{"mark":{"type":"text","style":"b","dx":212.5,"dy":-49,"text":"cm"}},
{"mark":{"type":"text","style":"b","fontSize":17,"dx":239.5,"dy":-58,"text":"-2"}},
{"mark":{"type":"text","style":"b","dx":23,"dy":-23,"text":"log L"}},
{"mark":{"type":"text","style":"b","fontSize":17,"dx":69.5,"dy":-17,"text":"14-195keV"}},
{"mark":{"type":"text","style":"b","dx":146.5,"dy":-23,"text":"= 44.49 ergs"}},
{"mark":{"type":"text","style":"b","fontSize":17,"dx":254,"dy":-32,"text":"-1"}}
]},
{"data":{"name":"d1"},"mark":{"type":"errorbar","color":"#ff5020","thickness":1.2,"ticks":{"size":7},"rule":{"strokeDash":[3,2]}},"encoding":{"x":{"field":"x","type":"quantitative","axis":null},"y":{"field":"y","type":"quantitative","axis":null},"yError":{"field":"e"}}},
{"data":{"name":"d1"},"mark":{"type":"circle","color":"black"},"encoding":{"x":{"field":"x","type":"quantitative","scale":{"domain":[2.385,4.615],"nice":false,"zero":false},"axis":{"orient":"bottom","values":[2.5,3,3.5,4,4.5],"labelExpr":"''+datum.value","title":null,"offset":-13,"tickSize":13,"labelPadding":10}},"y":{"field":"y","type":"quantitative","scale":{"domain":[0,40],"nice":false,"zero":false},"axis":{"orient":"left","values":[0,5,10,15,20,25,30,35,40],"labelExpr":"''+datum.value","title":null,"offset":-13,"tickSize":13,"labelPadding":13}}}},
{"data":{"name":"d1"},"mark":{"type":"circle","opacity":0},"encoding":{"x":{"field":"x","type":"quantitative","axis":{"orient":"top","values":[2.5,3,3.5,4,4.5],"labels":false,"title":null,"offset":-13,"tickSize":13}},"y":{"field":"y","type":"quantitative","axis":{"orient":"right","values":[0,5,10,15,20,25,30,35,40],"labels":false,"title":null,"offset":-13,"tickSize":13}}}},
{"data":{"name":"d1"},"mark":{"type":"circle","opacity":0},"encoding":{"x":{"field":"x","type":"quantitative","axis":{"orient":"bottom","values":[2.4,2.5,2.6,2.7,2.8,2.9,3,3.1,3.2,3.3,3.4,3.5,3.6,3.7,3.8,3.9,4,4.1,4.2,4.3,4.4,4.5,4.6],"labels":false,"title":null,"offset":-6,"tickSize":6,"tickWidth":2}},"y":{"field":"y","type":"quantitative","axis":null}}},
{"data":{"name":"d1"},"mark":{"type":"circle","opacity":0},"encoding":{"x":{"field":"x","type":"quantitative","axis":{"orient":"top","values":[2.4,2.5,2.6,2.7,2.8,2.9,3,3.1,3.2,3.3,3.4,3.5,3.6,3.7,3.8,3.9,4,4.1,4.2,4.3,4.4,4.5,4.6],"labels":false,"title":null,"offset":-6,"tickSize":6,"tickWidth":2}},"y":{"field":"y","type":"quantitative","axis":null}}}
]},
{"width":309,"height":230,"resolve":{"axis":{"x":"independent","y":"independent"}},"layer":[
{"data":{"name":"o"},"encoding":{"x":{"datum":2.46,"type":"quantitative","axis":null},"y":{"datum":0,"type":"quantitative","axis":null}},"layer":[
{"mark":{"type":"text","dy":-239,"text":"Mrk 18 (Sy2.0)"}},
{"mark":{"type":"text","align":"right","dx":315,"dy":-239,"text":"(z=0.011)"}},
{"mark":{"type":"text","angle":270,"dx":78,"dy":-43,"text":"F"}},
{"mark":{"type":"text","fontSize":17,"angle":270,"dx":90,"dy":-38,"text":"ν"}},
{"mark":{"type":"text","angle":270,"dx":99,"dy":-43,"text":"(mJy)"}},
{"mark":{"type":"text","dx":113,"dy":58,"text":"λ"}},
{"mark":{"type":"text","fontSize":17,"dx":124.5,"dy":64,"text":"rest"}},
{"mark":{"type":"text","dx":154.5,"dy":58,"text":"[μm]"}},
{"mark":{"type":"text","style":"b","dx":23,"dy":-49,"text":"N"}},
{"mark":{"type":"text","style":"b","fontSize":17,"dx":39,"dy":-46,"text":"H"}},
{"mark":{"type":"text","style":"b","dx":51.3,"dy":-49,"text":"=18.25"}},
{"mark":{"type":"text","style":"b","fontSize":17,"dx":112,"dy":-60,"text":"+3.64"}},
{"mark":{"type":"text","style":"b","fontSize":17,"dx":112,"dy":-42,"text":"-2.71"}},
{"mark":{"type":"text","style":"b","dx":156,"dy":-49,"text":"x 10"}},
{"mark":{"type":"text","style":"b","fontSize":17,"dx":194.5,"dy":-58,"text":"22"}},
{"mark":{"type":"text","style":"b","dx":212.5,"dy":-49,"text":"cm"}},
{"mark":{"type":"text","style":"b","fontSize":17,"dx":239.5,"dy":-58,"text":"-2"}},
{"mark":{"type":"text","style":"b","dx":23,"dy":-23,"text":"log L"}},
{"mark":{"type":"text","style":"b","fontSize":17,"dx":69.5,"dy":-17,"text":"14-195keV"}},
{"mark":{"type":"text","style":"b","dx":146.5,"dy":-23,"text":"= 42.93 ergs"}},
{"mark":{"type":"text","style":"b","fontSize":17,"dx":254,"dy":-32,"text":"-1"}}
]},
{"data":{"name":"d2"},"mark":{"type":"errorbar","color":"#ff5020","thickness":1.2,"ticks":{"size":7},"rule":{"strokeDash":[3,2]}},"encoding":{"x":{"field":"x","type":"quantitative","axis":null},"y":{"field":"y","type":"quantitative","axis":null},"yError":{"field":"e"}}},
{"data":{"name":"d2"},"mark":{"type":"circle","color":"black"},"encoding":{"x":{"field":"x","type":"quantitative","scale":{"domain":[2.46,4.79],"nice":false,"zero":false},"axis":{"orient":"bottom","values":[2.5,3,3.5,4,4.5],"labelExpr":"''+datum.value","title":null,"offset":-13,"tickSize":13,"labelPadding":10}},"y":{"field":"y","type":"quantitative","scale":{"domain":[0,32],"nice":false,"zero":false},"axis":{"orient":"left","values":[0,4,8,12,16,20,24,28,32],"labelExpr":"''+datum.value","title":null,"offset":-13,"tickSize":13,"labelPadding":13}}}},
{"data":{"name":"d2"},"mark":{"type":"circle","opacity":0},"encoding":{"x":{"field":"x","type":"quantitative","axis":{"orient":"top","values":[2.5,3,3.5,4,4.5],"labels":false,"title":null,"offset":-13,"tickSize":13}},"y":{"field":"y","type":"quantitative","axis":{"orient":"right","values":[0,4,8,12,16,20,24,28,32],"labels":false,"title":null,"offset":-13,"tickSize":13}}}},
{"data":{"name":"d2"},"mark":{"type":"circle","opacity":0},"encoding":{"x":{"field":"x","type":"quantitative","axis":{"orient":"bottom","values":[2.5,2.6,2.7,2.8,2.9,3,3.1,3.2,3.3,3.4,3.5,3.6,3.7,3.8,3.9,4,4.1,4.2,4.3,4.4,4.5,4.6,4.7],"labels":false,"title":null,"offset":-6,"tickSize":6,"tickWidth":2}},"y":{"field":"y","type":"quantitative","axis":null}}},
{"data":{"name":"d2"},"mark":{"type":"circle","opacity":0},"encoding":{"x":{"field":"x","type":"quantitative","axis":{"orient":"top","values":[2.5,2.6,2.7,2.8,2.9,3,3.1,3.2,3.3,3.4,3.5,3.6,3.7,3.8,3.9,4,4.1,4.2,4.3,4.4,4.5,4.6,4.7],"labels":false,"title":null,"offset":-6,"tickSize":6,"tickWidth":2}},"y":{"field":"y","type":"quantitative","axis":null}}}
]},
{"width":309,"height":230,"resolve":{"axis":{"x":"independent","y":"independent"}},"layer":[
{"data":{"name":"o"},"encoding":{"x":{"datum":2.46,"type":"quantitative","axis":null},"y":{"datum":0,"type":"quantitative","axis":null}},"layer":[
{"mark":{"type":"text","dy":-239,"text":"IC 5063 (Sy2.0)"}},
{"mark":{"type":"text","align":"right","dx":315,"dy":-239,"text":"(z=0.011)"}},
{"mark":{"type":"text","angle":270,"dx":78,"dy":-52,"text":"F"}},
{"mark":{"type":"text","fontSize":17,"angle":270,"dx":90,"dy":-47,"text":"ν"}},
{"mark":{"type":"text","angle":270,"dx":99,"dy":-52,"text":"(mJy)"}},
{"mark":{"type":"text","dx":113,"dy":58,"text":"λ"}},
{"mark":{"type":"text","fontSize":17,"dx":124.5,"dy":64,"text":"rest"}},
{"mark":{"type":"text","dx":154.5,"dy":58,"text":"[μm]"}},
{"mark":{"type":"text","style":"b","dx":23,"dy":-49,"text":"N"}},
{"mark":{"type":"text","style":"b","fontSize":17,"dx":39,"dy":-46,"text":"H"}},
{"mark":{"type":"text","style":"b","dx":51.3,"dy":-49,"text":"=21.78"}},
{"mark":{"type":"text","style":"b","fontSize":17,"dx":112,"dy":-60,"text":"+2.24"}},
{"mark":{"type":"text","style":"b","fontSize":17,"dx":112,"dy":-42,"text":"-2.06"}},
{"mark":{"type":"text","style":"b","dx":156,"dy":-49,"text":"x 10"}},
{"mark":{"type":"text","style":"b","fontSize":17,"dx":194.5,"dy":-58,"text":"22"}},
{"mark":{"type":"text","style":"b","dx":212.5,"dy":-49,"text":"cm"}},
{"mark":{"type":"text","style":"b","fontSize":17,"dx":239.5,"dy":-58,"text":"-2"}},
{"mark":{"type":"text","style":"b","dx":23,"dy":-23,"text":"log L"}},
{"mark":{"type":"text","style":"b","fontSize":17,"dx":69.5,"dy":-17,"text":"14-195keV"}},
{"mark":{"type":"text","style":"b","dx":146.5,"dy":-23,"text":"= 43.39 ergs"}},
{"mark":{"type":"text","style":"b","fontSize":17,"dx":254,"dy":-32,"text":"-1"}}
]},
{"data":{"name":"d3"},"mark":{"type":"errorbar","color":"#ff5020","thickness":1.2,"ticks":{"size":7},"rule":{"strokeDash":[3,2]}},"encoding":{"x":{"field":"x","type":"quantitative","axis":null},"y":{"field":"y","type":"quantitative","axis":null},"yError":{"field":"e"}}},
{"data":{"name":"d3"},"mark":{"type":"circle","color":"black"},"encoding":{"x":{"field":"x","type":"quantitative","scale":{"domain":[2.46,4.79],"nice":false,"zero":false},"axis":{"orient":"bottom","values":[2.5,3,3.5,4,4.5],"labelExpr":"''+datum.value","title":null,"offset":-13,"tickSize":13,"labelPadding":10}},"y":{"field":"y","type":"quantitative","scale":{"domain":[0,127.5],"nice":false,"zero":false},"axis":{"orient":"left","values":[0,17,34,51,68,85,102,119],"labelExpr":"''+datum.value","title":null,"offset":-13,"tickSize":13,"labelPadding":13}}}},
{"data":{"name":"d3"},"mark":{"type":"circle","opacity":0},"encoding":{"x":{"field":"x","type":"quantitative","axis":{"orient":"top","values":[2.5,3,3.5,4,4.5],"labels":false,"title":null,"offset":-13,"tickSize":13}},"y":{"field":"y","type":"quantitative","axis":{"orient":"right","values":[0,17,34,51,68,85,102,119],"labels":false,"title":null,"offset":-13,"tickSize":13}}}},
{"data":{"name":"d3"},"mark":{"type":"circle","opacity":0},"encoding":{"x":{"field":"x","type":"quantitative","axis":{"orient":"bottom","values":[2.5,2.6,2.7,2.8,2.9,3,3.1,3.2,3.3,3.4,3.5,3.6,3.7,3.8,3.9,4,4.1,4.2,4.3,4.4,4.5,4.6,4.7],"labels":false,"title":null,"offset":-6,"tickSize":6,"tickWidth":2}},"y":{"field":"y","type":"quantitative","axis":null}}},
{"data":{"name":"d3"},"mark":{"type":"circle","opacity":0},"encoding":{"x":{"field":"x","type":"quantitative","axis":{"orient":"top","values":[2.5,2.6,2.7,2.8,2.9,3,3.1,3.2,3.3,3.4,3.5,3.6,3.7,3.8,3.9,4,4.1,4.2,4.3,4.4,4.5,4.6,4.7],"labels":false,"title":null,"offset":-6,"tickSize":6,"tickWidth":2}},"y":{"field":"y","type":"quantitative","axis":null}}}
]},
{"width":309,"height":230,"resolve":{"axis":{"x":"independent","y":"independent"}},"layer":[
{"data":{"name":"o"},"encoding":{"x":{"datum":2.47,"type":"quantitative","axis":null},"y":{"datum":0,"type":"quantitative","axis":null}},"layer":[
{"mark":{"type":"text","dy":-239,"text":"NGC 7582 (Sy2.0)"}},
{"mark":{"type":"text","align":"right","dx":315,"dy":-239,"text":"(z=0.005)"}},
{"mark":{"type":"text","angle":270,"dx":78,"dy":-52,"text":"F"}},
{"mark":{"type":"text","fontSize":17,"angle":270,"dx":90,"dy":-47,"text":"ν"}},
{"mark":{"type":"text","angle":270,"dx":99,"dy":-52,"text":"(mJy)"}},
{"mark":{"type":"text","dx":113,"dy":58,"text":"λ"}},
{"mark":{"type":"text","fontSize":17,"dx":124.5,"dy":64,"text":"rest"}},
{"mark":{"type":"text","dx":154.5,"dy":58,"text":"[μm]"}},
{"mark":{"type":"text","style":"b","dx":23,"dy":-49,"text":"N"}},
{"mark":{"type":"text","style":"b","fontSize":17,"dx":39,"dy":-46,"text":"H"}},
{"mark":{"type":"text","style":"b","dx":51.3,"dy":-49,"text":"=33.0"}},
{"mark":{"type":"text","style":"b","dx":106.5,"dy":-49,"text":"x 10"}},
{"mark":{"type":"text","style":"b","fontSize":17,"dx":145,"dy":-58,"text":"22"}},
{"mark":{"type":"text","style":"b","dx":163,"dy":-49,"text":"cm"}},
{"mark":{"type":"text","style":"b","fontSize":17,"dx":190,"dy":-58,"text":"-2"}},
{"mark":{"type":"text","style":"b","dx":23,"dy":-23,"text":"log L"}},
{"mark":{"type":"text","style":"b","fontSize":17,"dx":69.5,"dy":-17,"text":"14-195keV"}},
{"mark":{"type":"text","style":"b","dx":146.5,"dy":-23,"text":"= 42.68 ergs"}},
{"mark":{"type":"text","style":"b","fontSize":17,"dx":254,"dy":-32,"text":"-1"}}
]},
{"data":{"name":"d4"},"mark":{"type":"errorbar","color":"#ff5020","thickness":1.2,"ticks":{"size":7},"rule":{"strokeDash":[3,2]}},"encoding":{"x":{"field":"x","type":"quantitative","axis":null},"y":{"field":"y","type":"quantitative","axis":null},"yError":{"field":"e"}}},
{"data":{"name":"d4"},"mark":{"type":"circle","color":"black"},"encoding":{"x":{"field":"x","type":"quantitative","scale":{"domain":[2.47,4.82],"nice":false,"zero":false},"axis":{"orient":"bottom","values":[2.5,3,3.5,4,4.5],"labelExpr":"''+datum.value","title":null,"offset":-13,"tickSize":13,"labelPadding":10}},"y":{"field":"y","type":"quantitative","scale":{"domain":[0,294],"nice":false,"zero":false},"axis":{"orient":"left","values":[0,40,80,120,160,200,240,280],"labelExpr":"''+datum.value","title":null,"offset":-13,"tickSize":13,"labelPadding":13}}}},
{"data":{"name":"d4"},"mark":{"type":"circle","opacity":0},"encoding":{"x":{"field":"x","type":"quantitative","axis":{"orient":"top","values":[2.5,3,3.5,4,4.5],"labels":false,"title":null,"offset":-13,"tickSize":13}},"y":{"field":"y","type":"quantitative","axis":{"orient":"right","values":[0,40,80,120,160,200,240,280],"labels":false,"title":null,"offset":-13,"tickSize":13}}}},
{"data":{"name":"d4"},"mark":{"type":"circle","opacity":0},"encoding":{"x":{"field":"x","type":"quantitative","axis":{"orient":"bottom","values":[2.5,2.6,2.7,2.8,2.9,3,3.1,3.2,3.3,3.4,3.5,3.6,3.7,3.8,3.9,4,4.1,4.2,4.3,4.4,4.5,4.6,4.7,4.8],"labels":false,"title":null,"offset":-6,"tickSize":6,"tickWidth":2}},"y":{"field":"y","type":"quantitative","axis":null}}},
{"data":{"name":"d4"},"mark":{"type":"circle","opacity":0},"encoding":{"x":{"field":"x","type":"quantitative","axis":{"orient":"top","values":[2.5,2.6,2.7,2.8,2.9,3,3.1,3.2,3.3,3.4,3.5,3.6,3.7,3.8,3.9,4,4.1,4.2,4.3,4.4,4.5,4.6,4.7,4.8],"labels":false,"title":null,"offset":-6,"tickSize":6,"tickWidth":2}},"y":{"field":"y","type":"quantitative","axis":null}}}
]},
{"width":309,"height":230,"resolve":{"axis":{"x":"independent","y":"independent"}},"layer":[
{"data":{"name":"o"},"encoding":{"x":{"datum":2.46,"type":"quantitative","axis":null},"y":{"datum":0,"type":"quantitative","axis":null}},"layer":[
{"mark":{"type":"text","dy":-239,"text":"NGC 4388 (Sy2.0)"}},
{"mark":{"type":"text","align":"right","dx":315,"dy":-239,"text":"(z=0.008)"}},
{"mark":{"type":"text","angle":270,"dx":78,"dy":-43,"text":"F"}},
{"mark":{"type":"text","fontSize":17,"angle":270,"dx":90,"dy":-38,"text":"ν"}},
{"mark":{"type":"text","angle":270,"dx":99,"dy":-43,"text":"(mJy)"}},
{"mark":{"type":"text","dx":113,"dy":58,"text":"λ"}},
{"mark":{"type":"text","fontSize":17,"dx":124.5,"dy":64,"text":"rest"}},
{"mark":{"type":"text","dx":154.5,"dy":58,"text":"[μm]"}},
{"mark":{"type":"text","style":"b","dx":23,"dy":-49,"text":"N"}},
{"mark":{"type":"text","style":"b","fontSize":17,"dx":39,"dy":-46,"text":"H"}},
{"mark":{"type":"text","style":"b","dx":51.3,"dy":-49,"text":"=36.17"}},
{"mark":{"type":"text","style":"b","fontSize":17,"dx":112,"dy":-60,"text":"+3.81"}},
{"mark":{"type":"text","style":"b","fontSize":17,"dx":112,"dy":-42,"text":"-3.82"}},
{"mark":{"type":"text","style":"b","dx":156,"dy":-49,"text":"x 10"}},
{"mark":{"type":"text","style":"b","fontSize":17,"dx":194.5,"dy":-58,"text":"22"}},
{"mark":{"type":"text","style":"b","dx":212.5,"dy":-49,"text":"cm"}},
{"mark":{"type":"text","style":"b","fontSize":17,"dx":239.5,"dy":-58,"text":"-2"}},
{"mark":{"type":"text","style":"b","dx":23,"dy":-23,"text":"log L"}},
{"mark":{"type":"text","style":"b","fontSize":17,"dx":69.5,"dy":-17,"text":"14-195keV"}},
{"mark":{"type":"text","style":"b","dx":146.5,"dy":-23,"text":"= 43.74 ergs"}},
{"mark":{"type":"text","style":"b","fontSize":17,"dx":254,"dy":-32,"text":"-1"}}
]},
{"data":{"name":"d5"},"mark":{"type":"errorbar","color":"#ff5020","thickness":1.2,"ticks":{"size":7},"rule":{"strokeDash":[3,2]}},"encoding":{"x":{"field":"x","type":"quantitative","axis":null},"y":{"field":"y","type":"quantitative","axis":null},"yError":{"field":"e"}}},
{"data":{"name":"d5"},"mark":{"type":"circle","color":"black"},"encoding":{"x":{"field":"x","type":"quantitative","scale":{"domain":[2.46,4.79],"nice":false,"zero":false},"axis":{"orient":"bottom","values":[2.5,3,3.5,4,4.5],"labelExpr":"''+datum.value","title":null,"offset":-13,"tickSize":13,"labelPadding":10}},"y":{"field":"y","type":"quantitative","scale":{"domain":[0,70],"nice":false,"zero":false},"axis":{"orient":"left","values":[0,9,18,27,36,45,54,63],"labelExpr":"''+datum.value","title":null,"offset":-13,"tickSize":13,"labelPadding":13}}}},
{"data":{"name":"d5"},"mark":{"type":"circle","opacity":0},"encoding":{"x":{"field":"x","type":"quantitative","axis":{"orient":"top","values":[2.5,3,3.5,4,4.5],"labels":false,"title":null,"offset":-13,"tickSize":13}},"y":{"field":"y","type":"quantitative","axis":{"orient":"right","values":[0,9,18,27,36,45,54,63],"labels":false,"title":null,"offset":-13,"tickSize":13}}}},
{"data":{"name":"d5"},"mark":{"type":"circle","opacity":0},"encoding":{"x":{"field":"x","type":"quantitative","axis":{"orient":"bottom","values":[2.5,2.6,2.7,2.8,2.9,3,3.1,3.2,3.3,3.4,3.5,3.6,3.7,3.8,3.9,4,4.1,4.2,4.3,4.4,4.5,4.6,4.7],"labels":false,"title":null,"offset":-6,"tickSize":6,"tickWidth":2}},"y":{"field":"y","type":"quantitative","axis":null}}},
{"data":{"name":"d5"},"mark":{"type":"circle","opacity":0},"encoding":{"x":{"field":"x","type":"quantitative","axis":{"orient":"top","values":[2.5,2.6,2.7,2.8,2.9,3,3.1,3.2,3.3,3.4,3.5,3.6,3.7,3.8,3.9,4,4.1,4.2,4.3,4.4,4.5,4.6,4.7],"labels":false,"title":null,"offset":-6,"tickSize":6,"tickWidth":2}},"y":{"field":"y","type":"quantitative","axis":null}}}
]},
{"width":309,"height":230,"resolve":{"axis":{"x":"independent","y":"independent"}},"layer":[
{"data":{"name":"o"},"encoding":{"x":{"datum":2.447,"type":"quantitative","axis":null},"y":{"datum":0,"type":"quantitative","axis":null}},"layer":[
{"mark":{"type":"text","dy":-239,"text":"MCG-03-34-064 (Sy1.8)"}},
{"mark":{"type":"text","align":"right","dx":315,"dy":-239,"text":"(z=0.016)"}},
{"mark":{"type":"text","angle":270,"dx":78,"dy":-52,"text":"F"}},
{"mark":{"type":"text","fontSize":17,"angle":270,"dx":90,"dy":-47,"text":"ν"}},
{"mark":{"type":"text","angle":270,"dx":99,"dy":-52,"text":"(mJy)"}},
{"mark":{"type":"text","dx":113,"dy":58,"text":"λ"}},
{"mark":{"type":"text","fontSize":17,"dx":124.5,"dy":64,"text":"rest"}},
{"mark":{"type":"text","dx":154.5,"dy":58,"text":"[μm]"}},
{"mark":{"type":"text","style":"b","dx":23,"dy":-49,"text":"N"}},
{"mark":{"type":"text","style":"b","fontSize":17,"dx":39,"dy":-46,"text":"H"}},
{"mark":{"type":"text","style":"b","dx":51.3,"dy":-49,"text":"=40.73"}},
{"mark":{"type":"text","style":"b","fontSize":17,"dx":112,"dy":-60,"text":"+4.79"}},
{"mark":{"type":"text","style":"b","fontSize":17,"dx":112,"dy":-42,"text":"-4.30"}},
{"mark":{"type":"text","style":"b","dx":156,"dy":-49,"text":"x 10"}},
{"mark":{"type":"text","style":"b","fontSize":17,"dx":194.5,"dy":-58,"text":"22"}},
{"mark":{"type":"text","style":"b","dx":212.5,"dy":-49,"text":"cm"}},
{"mark":{"type":"text","style":"b","fontSize":17,"dx":239.5,"dy":-58,"text":"-2"}},
{"mark":{"type":"text","style":"b","dx":23,"dy":-23,"text":"log L"}},
{"mark":{"type":"text","style":"b","fontSize":17,"dx":69.5,"dy":-17,"text":"14-195keV"}},
{"mark":{"type":"text","style":"b","dx":146.5,"dy":-23,"text":"= 43.29 ergs"}},
{"mark":{"type":"text","style":"b","fontSize":17,"dx":254,"dy":-32,"text":"-1"}}
]},
{"data":{"name":"d6"},"mark":{"type":"errorbar","color":"#ff5020","thickness":1.2,"ticks":{"size":7},"rule":{"strokeDash":[3,2]}},"encoding":{"x":{"field":"x","type":"quantitative","axis":null},"y":{"field":"y","type":"quantitative","axis":null},"yError":{"field":"e"}}},
{"data":{"name":"d6"},"mark":{"type":"circle","color":"black"},"encoding":{"x":{"field":"x","type":"quantitative","scale":{"domain":[2.447,4.763],"nice":false,"zero":false},"axis":{"orient":"bottom","values":[2.5,3,3.5,4,4.5],"labelExpr":"''+datum.value","title":null,"offset":-13,"tickSize":13,"labelPadding":10}},"y":{"field":"y","type":"quantitative","scale":{"domain":[0,125],"nice":false,"zero":false},"axis":{"orient":"left","values":[0,17,34,51,68,85,102,119],"labelExpr":"''+datum.value","title":null,"offset":-13,"tickSize":13,"labelPadding":13}}}},
{"data":{"name":"d6"},"mark":{"type":"circle","opacity":0},"encoding":{"x":{"field":"x","type":"quantitative","axis":{"orient":"top","values":[2.5,3,3.5,4,4.5],"labels":false,"title":null,"offset":-13,"tickSize":13}},"y":{"field":"y","type":"quantitative","axis":{"orient":"right","values":[0,17,34,51,68,85,102,119],"labels":false,"title":null,"offset":-13,"tickSize":13}}}},
{"data":{"name":"d6"},"mark":{"type":"circle","opacity":0},"encoding":{"x":{"field":"x","type":"quantitative","axis":{"orient":"bottom","values":[2.5,2.6,2.7,2.8,2.9,3,3.1,3.2,3.3,3.4,3.5,3.6,3.7,3.8,3.9,4,4.1,4.2,4.3,4.4,4.5,4.6,4.7],"labels":false,"title":null,"offset":-6,"tickSize":6,"tickWidth":2}},"y":{"field":"y","type":"quantitative","axis":null}}},
{"data":{"name":"d6"},"mark":{"type":"circle","opacity":0},"encoding":{"x":{"field":"x","type":"quantitative","axis":{"orient":"top","values":[2.5,2.6,2.7,2.8,2.9,3,3.1,3.2,3.3,3.4,3.5,3.6,3.7,3.8,3.9,4,4.1,4.2,4.3,4.4,4.5,4.6,4.7],"labels":false,"title":null,"offset":-6,"tickSize":6,"tickWidth":2}},"y":{"field":"y","type":"quantitative","axis":null}}}
]},
{"width":309,"height":230,"resolve":{"axis":{"x":"independent","y":"independent"}},"layer":[
{"data":{"name":"o"},"encoding":{"x":{"datum":2.425,"type":"quantitative","axis":null},"y":{"datum":0,"type":"quantitative","axis":null}},"layer":[
{"mark":{"type":"text","dy":-239,"text":"ESO 297-018 (Sy2.0)"}},
{"mark":{"type":"text","align":"right","dx":315,"dy":-239,"text":"(z=0.025)"}},
{"mark":{"type":"text","angle":270,"dx":78,"dy":-43,"text":"F"}},
{"mark":{"type":"text","fontSize":17,"angle":270,"dx":90,"dy":-38,"text":"ν"}},
{"mark":{"type":"text","angle":270,"dx":99,"dy":-43,"text":"(mJy)"}},
{"mark":{"type":"text","dx":113,"dy":58,"text":"λ"}},
{"mark":{"type":"text","fontSize":17,"dx":124.5,"dy":64,"text":"rest"}},
{"mark":{"type":"text","dx":154.5,"dy":58,"text":"[μm]"}},
{"mark":{"type":"text","style":"b","dx":23,"dy":-49,"text":"N"}},
{"mark":{"type":"text","style":"b","fontSize":17,"dx":39,"dy":-46,"text":"H"}},
{"mark":{"type":"text","style":"b","dx":51.3,"dy":-49,"text":"=41.71"}},
{"mark":{"type":"text","style":"b","fontSize":17,"dx":112,"dy":-60,"text":"+4.70"}},
{"mark":{"type":"text","style":"b","fontSize":17,"dx":112,"dy":-42,"text":"-2.90"}},
{"mark":{"type":"text","style":"b","dx":156,"dy":-49,"text":"x 10"}},
{"mark":{"type":"text","style":"b","fontSize":17,"dx":194.5,"dy":-58,"text":"22"}},
{"mark":{"type":"text","style":"b","dx":212.5,"dy":-49,"text":"cm"}},
{"mark":{"type":"text","style":"b","fontSize":17,"dx":239.5,"dy":-58,"text":"-2"}},
{"mark":{"type":"text","style":"b","dx":23,"dy":-23,"text":"log L"}},
{"mark":{"type":"text","style":"b","fontSize":17,"dx":69.5,"dy":-17,"text":"14-195keV"}},
{"mark":{"type":"text","style":"b","dx":146.5,"dy":-23,"text":"= 44.03 ergs"}},
{"mark":{"type":"text","style":"b","fontSize":17,"dx":254,"dy":-32,"text":"-1"}}
]},
{"data":{"name":"d7"},"mark":{"type":"errorbar","color":"#ff5020","thickness":1.2,"ticks":{"size":7},"rule":{"strokeDash":[3,2]}},"encoding":{"x":{"field":"x","type":"quantitative","axis":null},"y":{"field":"y","type":"quantitative","axis":null},"yError":{"field":"e"}}},
{"data":{"name":"d7"},"mark":{"type":"circle","color":"black"},"encoding":{"x":{"field":"x","type":"quantitative","scale":{"domain":[2.425,4.73],"nice":false,"zero":false},"axis":{"orient":"bottom","values":[2.5,3,3.5,4,4.5],"labelExpr":"''+datum.value","title":null,"offset":-13,"tickSize":13,"labelPadding":10}},"y":{"field":"y","type":"quantitative","scale":{"domain":[0,29.4],"nice":false,"zero":false},"axis":{"orient":"left","values":[0,4,8,12,16,20,24,28],"labelExpr":"''+datum.value","title":null,"offset":-13,"tickSize":13,"labelPadding":13}}}},
{"data":{"name":"d7"},"mark":{"type":"circle","opacity":0},"encoding":{"x":{"field":"x","type":"quantitative","axis":{"orient":"top","values":[2.5,3,3.5,4,4.5],"labels":false,"title":null,"offset":-13,"tickSize":13}},"y":{"field":"y","type":"quantitative","axis":{"orient":"right","values":[0,4,8,12,16,20,24,28],"labels":false,"title":null,"offset":-13,"tickSize":13}}}},
{"data":{"name":"d7"},"mark":{"type":"circle","opacity":0},"encoding":{"x":{"field":"x","type":"quantitative","axis":{"orient":"bottom","values":[2.5,2.6,2.7,2.8,2.9,3,3.1,3.2,3.3,3.4,3.5,3.6,3.7,3.8,3.9,4,4.1,4.2,4.3,4.4,4.5,4.6,4.7],"labels":false,"title":null,"offset":-6,"tickSize":6,"tickWidth":2}},"y":{"field":"y","type":"quantitative","axis":null}}},
{"data":{"name":"d7"},"mark":{"type":"circle","opacity":0},"encoding":{"x":{"field":"x","type":"quantitative","axis":{"orient":"top","values":[2.5,2.6,2.7,2.8,2.9,3,3.1,3.2,3.3,3.4,3.5,3.6,3.7,3.8,3.9,4,4.1,4.2,4.3,4.4,4.5,4.6,4.7],"labels":false,"title":null,"offset":-6,"tickSize":6,"tickWidth":2}},"y":{"field":"y","type":"quantitative","axis":null}}}
]},
{"width":309,"height":230,"resolve":{"axis":{"x":"independent","y":"independent"}},"layer":[
{"data":{"name":"o"},"encoding":{"x":{"datum":2.426,"type":"quantitative","axis":null},"y":{"datum":0,"type":"quantitative","axis":null}},"layer":[
{"mark":{"type":"text","dy":-239,"text":"ESO 506-G027 (Sy2.0)"}},
{"mark":{"type":"text","align":"right","dx":315,"dy":-239,"text":"(z=0.025)"}},
{"mark":{"type":"text","angle":270,"dx":78,"dy":-43,"text":"F"}},
{"mark":{"type":"text","fontSize":17,"angle":270,"dx":90,"dy":-38,"text":"ν"}},
{"mark":{"type":"text","angle":270,"dx":99,"dy":-43,"text":"(mJy)"}},
{"mark":{"type":"text","dx":113,"dy":58,"text":"λ"}},
{"mark":{"type":"text","fontSize":17,"dx":124.5,"dy":64,"text":"rest"}},
{"mark":{"type":"text","dx":154.5,"dy":58,"text":"[μm]"}},
{"mark":{"type":"text","style":"b","dx":23,"dy":-49,"text":"N"}},
{"mark":{"type":"text","style":"b","fontSize":17,"dx":39,"dy":-46,"text":"H"}},
{"mark":{"type":"text","style":"b","dx":51.3,"dy":-49,"text":"=76.82"}},
{"mark":{"type":"text","style":"b","fontSize":17,"dx":112,"dy":-60,"text":"+7.37"}},
{"mark":{"type":"text","style":"b","fontSize":17,"dx":112,"dy":-42,"text":"-6.79"}},
{"mark":{"type":"text","style":"b","dx":156,"dy":-49,"text":"x 10"}},
{"mark":{"type":"text","style":"b","fontSize":17,"dx":194.5,"dy":-58,"text":"22"}},
{"mark":{"type":"text","style":"b","dx":212.5,"dy":-49,"text":"cm"}},
{"mark":{"type":"text","style":"b","fontSize":17,"dx":239.5,"dy":-58,"text":"-2"}},
{"mark":{"type":"text","style":"b","dx":23,"dy":-23,"text":"log L"}},
{"mark":{"type":"text","style":"b","fontSize":17,"dx":69.5,"dy":-17,"text":"14-195keV"}},
{"mark":{"type":"text","style":"b","dx":146.5,"dy":-23,"text":"= 44.29 ergs"}},
{"mark":{"type":"text","style":"b","fontSize":17,"dx":254,"dy":-32,"text":"-1"}}
]},
{"data":{"name":"d8"},"mark":{"type":"errorbar","color":"#ff5020","thickness":1.2,"ticks":{"size":7},"rule":{"strokeDash":[3,2]}},"encoding":{"x":{"field":"x","type":"quantitative","axis":null},"y":{"field":"y","type":"quantitative","axis":null},"yError":{"field":"e"}}},
{"data":{"name":"d8"},"mark":{"type":"circle","color":"black"},"encoding":{"x":{"field":"x","type":"quantitative","scale":{"domain":[2.426,4.72],"nice":false,"zero":false},"axis":{"orient":"bottom","values":[2.5,3,3.5,4,4.5],"labelExpr":"''+datum.value","title":null,"offset":-13,"tickSize":13,"labelPadding":10}},"y":{"field":"y","type":"quantitative","scale":{"domain":[0,47],"nice":false,"zero":false},"axis":{"orient":"left","values":[0,6,12,18,24,30,36,42],"labelExpr":"''+datum.value","title":null,"offset":-13,"tickSize":13,"labelPadding":13}}}},
{"data":{"name":"d8"},"mark":{"type":"circle","opacity":0},"encoding":{"x":{"field":"x","type":"quantitative","axis":{"orient":"top","values":[2.5,3,3.5,4,4.5],"labels":false,"title":null,"offset":-13,"tickSize":13}},"y":{"field":"y","type":"quantitative","axis":{"orient":"right","values":[0,6,12,18,24,30,36,42],"labels":false,"title":null,"offset":-13,"tickSize":13}}}},
{"data":{"name":"d8"},"mark":{"type":"circle","opacity":0},"encoding":{"x":{"field":"x","type":"quantitative","axis":{"orient":"bottom","values":[2.5,2.6,2.7,2.8,2.9,3,3.1,3.2,3.3,3.4,3.5,3.6,3.7,3.8,3.9,4,4.1,4.2,4.3,4.4,4.5,4.6,4.7],"labels":false,"title":null,"offset":-6,"tickSize":6,"tickWidth":2}},"y":{"field":"y","type":"quantitative","axis":null}}},
{"data":{"name":"d8"},"mark":{"type":"circle","opacity":0},"encoding":{"x":{"field":"x","type":"quantitative","axis":{"orient":"top","values":[2.5,2.6,2.7,2.8,2.9,3,3.1,3.2,3.3,3.4,3.5,3.6,3.7,3.8,3.9,4,4.1,4.2,4.3,4.4,4.5,4.6,4.7],"labels":false,"title":null,"offset":-6,"tickSize":6,"tickWidth":2}},"y":{"field":"y","type":"quantitative","axis":null}}}
]},
{"width":309,"height":230,"resolve":{"axis":{"x":"independent","y":"independent"}},"layer":[
{"data":{"name":"o"},"encoding":{"x":{"datum":2.46,"type":"quantitative","axis":null},"y":{"datum":0,"type":"quantitative","axis":null}},"layer":[
{"mark":{"type":"text","dy":-239,"text":"NGC 5728 (Sy2.0)"}},
{"mark":{"type":"text","align":"right","dx":315,"dy":-239,"text":"(z=0.009)"}},
{"mark":{"type":"text","angle":270,"dx":78,"dy":-43,"text":"F"}},
{"mark":{"type":"text","fontSize":17,"angle":270,"dx":90,"dy":-38,"text":"ν"}},
{"mark":{"type":"text","angle":270,"dx":99,"dy":-43,"text":"(mJy)"}},
{"mark":{"type":"text","dx":113,"dy":58,"text":"λ"}},
{"mark":{"type":"text","fontSize":17,"dx":124.5,"dy":64,"text":"rest"}},
{"mark":{"type":"text","dx":154.5,"dy":58,"text":"[μm]"}},
{"mark":{"type":"text","style":"b","dx":23,"dy":-49,"text":"N"}},
{"mark":{"type":"text","style":"b","fontSize":17,"dx":39,"dy":-46,"text":"H"}},
{"mark":{"type":"text","style":"b","dx":51.3,"dy":-49,"text":"=82.0"}},
{"mark":{"type":"text","style":"b","fontSize":17,"dx":101.5,"dy":-60,"text":"+5.3"}},
{"mark":{"type":"text","style":"b","fontSize":17,"dx":101.5,"dy":-42,"text":"-5.0"}},
{"mark":{"type":"text","style":"b","dx":136.5,"dy":-49,"text":"x 10"}},
{"mark":{"type":"text","style":"b","fontSize":17,"dx":175,"dy":-58,"text":"22"}},
{"mark":{"type":"text","style":"b","dx":193,"dy":-49,"text":"cm"}},
{"mark":{"type":"text","style":"b","fontSize":17,"dx":220,"dy":-58,"text":"-2"}},
{"mark":{"type":"text","style":"b","dx":23,"dy":-23,"text":"log L"}},
{"mark":{"type":"text","style":"b","fontSize":17,"dx":69.5,"dy":-17,"text":"14-195keV"}},
{"mark":{"type":"text","style":"b","dx":146.5,"dy":-23,"text":"= 43.31 ergs"}},
{"mark":{"type":"text","style":"b","fontSize":17,"dx":254,"dy":-32,"text":"-1"}}
]},
{"data":{"name":"d9"},"mark":{"type":"errorbar","color":"#ff5020","thickness":1.2,"ticks":{"size":7},"rule":{"strokeDash":[3,2]}},"encoding":{"x":{"field":"x","type":"quantitative","axis":null},"y":{"field":"y","type":"quantitative","axis":null},"yError":{"field":"e"}}},
{"data":{"name":"d9"},"mark":{"type":"circle","color":"black"},"encoding":{"x":{"field":"x","type":"quantitative","scale":{"domain":[2.46,4.79],"nice":false,"zero":false},"axis":{"orient":"bottom","values":[2.5,3,3.5,4,4.5],"labelExpr":"''+datum.value","title":null,"offset":-13,"tickSize":13,"labelPadding":10}},"y":{"field":"y","type":"quantitative","scale":{"domain":[0,32],"nice":false,"zero":false},"axis":{"orient":"left","values":[0,4,8,12,16,20,24,28,32],"labelExpr":"''+datum.value","title":null,"offset":-13,"tickSize":13,"labelPadding":13}}}},
{"data":{"name":"d9"},"mark":{"type":"circle","opacity":0},"encoding":{"x":{"field":"x","type":"quantitative","axis":{"orient":"top","values":[2.5,3,3.5,4,4.5],"labels":false,"title":null,"offset":-13,"tickSize":13}},"y":{"field":"y","type":"quantitative","axis":{"orient":"right","values":[0,4,8,12,16,20,24,28,32],"labels":false,"title":null,"offset":-13,"tickSize":13}}}},
{"data":{"name":"d9"},"mark":{"type":"circle","opacity":0},"encoding":{"x":{"field":"x","type":"quantitative","axis":{"orient":"bottom","values":[2.5,2.6,2.7,2.8,2.9,3,3.1,3.2,3.3,3.4,3.5,3.6,3.7,3.8,3.9,4,4.1,4.2,4.3,4.4,4.5,4.6,4.7],"labels":false,"title":null,"offset":-6,"tickSize":6,"tickWidth":2}},"y":{"field":"y","type":"quantitative","axis":null}}},
{"data":{"name":"d9"},"mark":{"type":"circle","opacity":0},"encoding":{"x":{"field":"x","type":"quantitative","axis":{"orient":"top","values":[2.5,2.6,2.7,2.8,2.9,3,3.1,3.2,3.3,3.4,3.5,3.6,3.7,3.8,3.9,4,4.1,4.2,4.3,4.4,4.5,4.6,4.7],"labels":false,"title":null,"offset":-6,"tickSize":6,"tickWidth":2}},"y":{"field":"y","type":"quantitative","axis":null}}}
]},
{"width":309,"height":230,"resolve":{"axis":{"x":"independent","y":"independent"}},"layer":[
{"data":{"name":"o"},"encoding":{"x":{"datum":2.404,"type":"quantitative","axis":null},"y":{"datum":0,"type":"quantitative","axis":null}},"layer":[
{"mark":{"type":"text","dy":-239,"text":"Mrk 417 (Sy2.0)"}},
{"mark":{"type":"text","align":"right","dx":315,"dy":-239,"text":"(z=0.032)"}},
{"mark":{"type":"text","angle":270,"dx":78,"dy":-43,"text":"F"}},
{"mark":{"type":"text","fontSize":17,"angle":270,"dx":90,"dy":-38,"text":"ν"}},
{"mark":{"type":"text","angle":270,"dx":99,"dy":-43,"text":"(mJy)"}},
{"mark":{"type":"text","dx":113,"dy":58,"text":"λ"}},
{"mark":{"type":"text","fontSize":17,"dx":124.5,"dy":64,"text":"rest"}},
{"mark":{"type":"text","dx":154.5,"dy":58,"text":"[μm]"}},
{"mark":{"type":"text","style":"b","dx":23,"dy":-49,"text":"N"}},
{"mark":{"type":"text","style":"b","fontSize":17,"dx":39,"dy":-46,"text":"H"}},
{"mark":{"type":"text","style":"b","dx":51.3,"dy":-49,"text":"=85.69"}},
{"mark":{"type":"text","style":"b","fontSize":17,"dx":112,"dy":-60,"text":"+12.73"}},
{"mark":{"type":"text","style":"b","fontSize":17,"dx":112,"dy":-42,"text":"-6.96"}},
{"mark":{"type":"text","style":"b","dx":163,"dy":-49,"text":"x 10"}},
{"mark":{"type":"text","style":"b","fontSize":17,"dx":201.5,"dy":-58,"text":"22"}},
{"mark":{"type":"text","style":"b","dx":219.5,"dy":-49,"text":"cm"}},
{"mark":{"type":"text","style":"b","fontSize":17,"dx":246.5,"dy":-58,"text":"-2"}},
{"mark":{"type":"text","style":"b","dx":23,"dy":-23,"text":"log L"}},
{"mark":{"type":"text","style":"b","fontSize":17,"dx":69.5,"dy":-17,"text":"14-195keV"}},
{"mark":{"type":"text","style":"b","dx":146.5,"dy":-23,"text":"= 43.97 ergs"}},
{"mark":{"type":"text","style":"b","fontSize":17,"dx":254,"dy":-32,"text":"-1"}}
]},
{"data":{"name":"d10"},"mark":{"type":"errorbar","color":"#ff5020","thickness":1.2,"ticks":{"size":7},"rule":{"strokeDash":[3,2]}},"encoding":{"x":{"field":"x","type":"quantitative","axis":null},"y":{"field":"y","type":"quantitative","axis":null},"yError":{"field":"e"}}},
{"data":{"name":"d10"},"mark":{"type":"circle","color":"black"},"encoding":{"x":{"field":"x","type":"quantitative","scale":{"domain":[2.404,4.685],"nice":false,"zero":false},"axis":{"orient":"bottom","values":[2.5,3,3.5,4,4.5],"labelExpr":"''+datum.value","title":null,"offset":-13,"tickSize":13,"labelPadding":10}},"y":{"field":"y","type":"quantitative","scale":{"domain":[0,14.64],"nice":false,"zero":false},"axis":{"orient":"left","values":[0,2,4,6,8,10,12,14],"labelExpr":"''+datum.value","title":null,"offset":-13,"tickSize":13,"labelPadding":13}}}},
{"data":{"name":"d10"},"mark":{"type":"circle","opacity":0},"encoding":{"x":{"field":"x","type":"quantitative","axis":{"orient":"top","values":[2.5,3,3.5,4,4.5],"labels":false,"title":null,"offset":-13,"tickSize":13}},"y":{"field":"y","type":"quantitative","axis":{"orient":"right","values":[0,2,4,6,8,10,12,14],"labels":false,"title":null,"offset":-13,"tickSize":13}}}},
{"data":{"name":"d10"},"mark":{"type":"circle","opacity":0},"encoding":{"x":{"field":"x","type":"quantitative","axis":{"orient":"bottom","values":[2.5,2.6,2.7,2.8,2.9,3,3.1,3.2,3.3,3.4,3.5,3.6,3.7,3.8,3.9,4,4.1,4.2,4.3,4.4,4.5,4.6],"labels":false,"title":null,"offset":-6,"tickSize":6,"tickWidth":2}},"y":{"field":"y","type":"quantitative","axis":null}}},
{"data":{"name":"d10"},"mark":{"type":"circle","opacity":0},"encoding":{"x":{"field":"x","type":"quantitative","axis":{"orient":"top","values":[2.5,2.6,2.7,2.8,2.9,3,3.1,3.2,3.3,3.4,3.5,3.6,3.7,3.8,3.9,4,4.1,4.2,4.3,4.4,4.5,4.6],"labels":false,"title":null,"offset":-6,"tickSize":6,"tickWidth":2}},"y":{"field":"y","type":"quantitative","axis":null}}}
]},
{"width":309,"height":230,"resolve":{"axis":{"x":"independent","y":"independent"}},"layer":[
{"data":{"name":"o"},"encoding":{"x":{"datum":2.46,"type":"quantitative","axis":null},"y":{"datum":0,"type":"quantitative","axis":null}},"layer":[
{"mark":{"type":"text","dy":-239,"text":"NGC 3281 (Sy2.0)"}},
{"mark":{"type":"text","align":"right","dx":315,"dy":-239,"text":"(z=0.010)"}},
{"mark":{"type":"text","angle":270,"dx":78,"dy":-52,"text":"F"}},
{"mark":{"type":"text","fontSize":17,"angle":270,"dx":90,"dy":-47,"text":"ν"}},
{"mark":{"type":"text","angle":270,"dx":99,"dy":-52,"text":"(mJy)"}},
{"mark":{"type":"text","dx":113,"dy":58,"text":"λ"}},
{"mark":{"type":"text","fontSize":17,"dx":124.5,"dy":64,"text":"rest"}},
{"mark":{"type":"text","dx":154.5,"dy":58,"text":"[μm]"}},
{"mark":{"type":"text","style":"b","dx":23,"dy":-49,"text":"N"}},
{"mark":{"type":"text","style":"b","fontSize":17,"dx":39,"dy":-46,"text":"H"}},
{"mark":{"type":"text","style":"b","dx":51.3,"dy":-49,"text":"=86.20"}},
{"mark":{"type":"text","style":"b","fontSize":17,"dx":112,"dy":-60,"text":"+16.32"}},
{"mark":{"type":"text","style":"b","fontSize":17,"dx":112,"dy":-42,"text":"-16.12"}},
{"mark":{"type":"text","style":"b","dx":163,"dy":-49,"text":"x 10"}},
{"mark":{"type":"text","style":"b","fontSize":17,"dx":201.5,"dy":-58,"text":"22"}},
{"mark":{"type":"text","style":"b","dx":219.5,"dy":-49,"text":"cm"}},
{"mark":{"type":"text","style":"b","fontSize":17,"dx":246.5,"dy":-58,"text":"-2"}},
{"mark":{"type":"text","style":"b","dx":23,"dy":-23,"text":"log L"}},
{"mark":{"type":"text","style":"b","fontSize":17,"dx":69.5,"dy":-17,"text":"14-195keV"}},
{"mark":{"type":"text","style":"b","dx":146.5,"dy":-23,"text":"= 43.36 ergs"}},
{"mark":{"type":"text","style":"b","fontSize":17,"dx":254,"dy":-32,"text":"-1"}}
]},
{"data":{"name":"d11"},"mark":{"type":"errorbar","color":"#ff5020","thickness":1.2,"ticks":{"size":7},"rule":{"strokeDash":[3,2]}},"encoding":{"x":{"field":"x","type":"quantitative","axis":null},"y":{"field":"y","type":"quantitative","axis":null},"yError":{"field":"e"}}},
{"data":{"name":"d11"},"mark":{"type":"circle","color":"black"},"encoding":{"x":{"field":"x","type":"quantitative","scale":{"domain":[2.46,4.79],"nice":false,"zero":false},"axis":{"orient":"bottom","values":[2.5,3,3.5,4,4.5],"labelExpr":"''+datum.value","title":null,"offset":-13,"tickSize":13,"labelPadding":10}},"y":{"field":"y","type":"quantitative","scale":{"domain":[0,161.7],"nice":false,"zero":false},"axis":{"orient":"left","values":[0,22,44,66,88,110,132,154],"labelExpr":"''+datum.value","title":null,"offset":-13,"tickSize":13,"labelPadding":13}}}},
{"data":{"name":"d11"},"mark":{"type":"circle","opacity":0},"encoding":{"x":{"field":"x","type":"quantitative","axis":{"orient":"top","values":[2.5,3,3.5,4,4.5],"labels":false,"title":null,"offset":-13,"tickSize":13}},"y":{"field":"y","type":"quantitative","axis":{"orient":"right","values":[0,22,44,66,88,110,132,154],"labels":false,"title":null,"offset":-13,"tickSize":13}}}},
{"data":{"name":"d11"},"mark":{"type":"circle","opacity":0},"encoding":{"x":{"field":"x","type":"quantitative","axis":{"orient":"bottom","values":[2.5,2.6,2.7,2.8,2.9,3,3.1,3.2,3.3,3.4,3.5,3.6,3.7,3.8,3.9,4,4.1,4.2,4.3,4.4,4.5,4.6,4.7],"labels":false,"title":null,"offset":-6,"tickSize":6,"tickWidth":2}},"y":{"field":"y","type":"quantitative","axis":null}}},
{"data":{"name":"d11"},"mark":{"type":"circle","opacity":0},"encoding":{"x":{"field":"x","type":"quantitative","axis":{"orient":"top","values":[2.5,2.6,2.7,2.8,2.9,3,3.1,3.2,3.3,3.4,3.5,3.6,3.7,3.8,3.9,4,4.1,4.2,4.3,4.4,4.5,4.6,4.7],"labels":false,"title":null,"offset":-6,"tickSize":6,"tickWidth":2}},"y":{"field":"y","type":"quantitative","axis":null}}}
]},
{"width":309,"height":230,"resolve":{"axis":{"x":"independent","y":"independent"}},"layer":[
{"data":{"name":"o"},"encoding":{"x":{"datum":2.46,"type":"quantitative","axis":null},"y":{"datum":0,"type":"quantitative","axis":null}},"layer":[
{"mark":{"type":"text","dy":-239,"text":"NGC 3081 (Sy2.0)"}},
{"mark":{"type":"text","align":"right","dx":315,"dy":-239,"text":"(z=0.007)"}},
{"mark":{"type":"text","angle":270,"dx":78,"dy":-43,"text":"F"}},
{"mark":{"type":"text","fontSize":17,"angle":270,"dx":90,"dy":-38,"text":"ν"}},
{"mark":{"type":"text","angle":270,"dx":99,"dy":-43,"text":"(mJy)"}},
{"mark":{"type":"text","dx":113,"dy":58,"text":"λ"}},
{"mark":{"type":"text","fontSize":17,"dx":124.5,"dy":64,"text":"rest"}},
{"mark":{"type":"text","dx":154.5,"dy":58,"text":"[μm]"}},
{"mark":{"type":"text","style":"b","dx":23,"dy":-49,"text":"N"}},
{"mark":{"type":"text","style":"b","fontSize":17,"dx":39,"dy":-46,"text":"H"}},
{"mark":{"type":"text","style":"b","dx":51.3,"dy":-49,"text":"=94.2"}},
{"mark":{"type":"text","style":"b","fontSize":17,"dx":101.5,"dy":-60,"text":"+6.2"}},
{"mark":{"type":"text","style":"b","fontSize":17,"dx":101.5,"dy":-42,"text":"-7.2"}},
{"mark":{"type":"text","style":"b","dx":136.5,"dy":-49,"text":"x 10"}},
{"mark":{"type":"text","style":"b","fontSize":17,"dx":175,"dy":-58,"text":"22"}},
{"mark":{"type":"text","style":"b","dx":193,"dy":-49,"text":"cm"}},
{"mark":{"type":"text","style":"b","fontSize":17,"dx":220,"dy":-58,"text":"-2"}},
{"mark":{"type":"text","style":"b","dx":23,"dy":-23,"text":"log L"}},
{"mark":{"type":"text","style":"b","fontSize":17,"dx":69.5,"dy":-17,"text":"14-195keV"}},
{"mark":{"type":"text","style":"b","dx":146.5,"dy":-23,"text":"= 43.16 ergs"}},
{"mark":{"type":"text","style":"b","fontSize":17,"dx":254,"dy":-32,"text":"-1"}}
]},
{"data":{"name":"d12"},"mark":{"type":"errorbar","color":"#ff5020","thickness":1.2,"ticks":{"size":7},"rule":{"strokeDash":[3,2]}},"encoding":{"x":{"field":"x","type":"quantitative","axis":null},"y":{"field":"y","type":"quantitative","axis":null},"yError":{"field":"e"}}},
{"data":{"name":"d12"},"mark":{"type":"circle","color":"black"},"encoding":{"x":{"field":"x","type":"quantitative","scale":{"domain":[2.46,4.79],"nice":false,"zero":false},"axis":{"orient":"bottom","values":[2.5,3,3.5,4,4.5],"labelExpr":"''+datum.value","title":null,"offset":-13,"tickSize":13,"labelPadding":10}},"y":{"field":"y","type":"quantitative","scale":{"domain":[0,39.3],"nice":false,"zero":false},"axis":{"orient":"left","values":[0,5,10,15,20,25,30,35],"labelExpr":"''+datum.value","title":null,"offset":-13,"tickSize":13,"labelPadding":13}}}},
{"data":{"name":"d12"},"mark":{"type":"circle","opacity":0},"encoding":{"x":{"field":"x","type":"quantitative","axis":{"orient":"top","values":[2.5,3,3.5,4,4.5],"labels":false,"title":null,"offset":-13,"tickSize":13}},"y":{"field":"y","type":"quantitative","axis":{"orient":"right","values":[0,5,10,15,20,25,30,35],"labels":false,"title":null,"offset":-13,"tickSize":13}}}},
{"data":{"name":"d12"},"mark":{"type":"circle","opacity":0},"encoding":{"x":{"field":"x","type":"quantitative","axis":{"orient":"bottom","values":[2.5,2.6,2.7,2.8,2.9,3,3.1,3.2,3.3,3.4,3.5,3.6,3.7,3.8,3.9,4,4.1,4.2,4.3,4.4,4.5,4.6,4.7],"labels":false,"title":null,"offset":-6,"tickSize":6,"tickWidth":2}},"y":{"field":"y","type":"quantitative","axis":null}}},
{"data":{"name":"d12"},"mark":{"type":"circle","opacity":0},"encoding":{"x":{"field":"x","type":"quantitative","axis":{"orient":"top","values":[2.5,2.6,2.7,2.8,2.9,3,3.1,3.2,3.3,3.4,3.5,3.6,3.7,3.8,3.9,4,4.1,4.2,4.3,4.4,4.5,4.6,4.7],"labels":false,"title":null,"offset":-6,"tickSize":6,"tickWidth":2}},"y":{"field":"y","type":"quantitative","axis":null}}}
]}
]
}
